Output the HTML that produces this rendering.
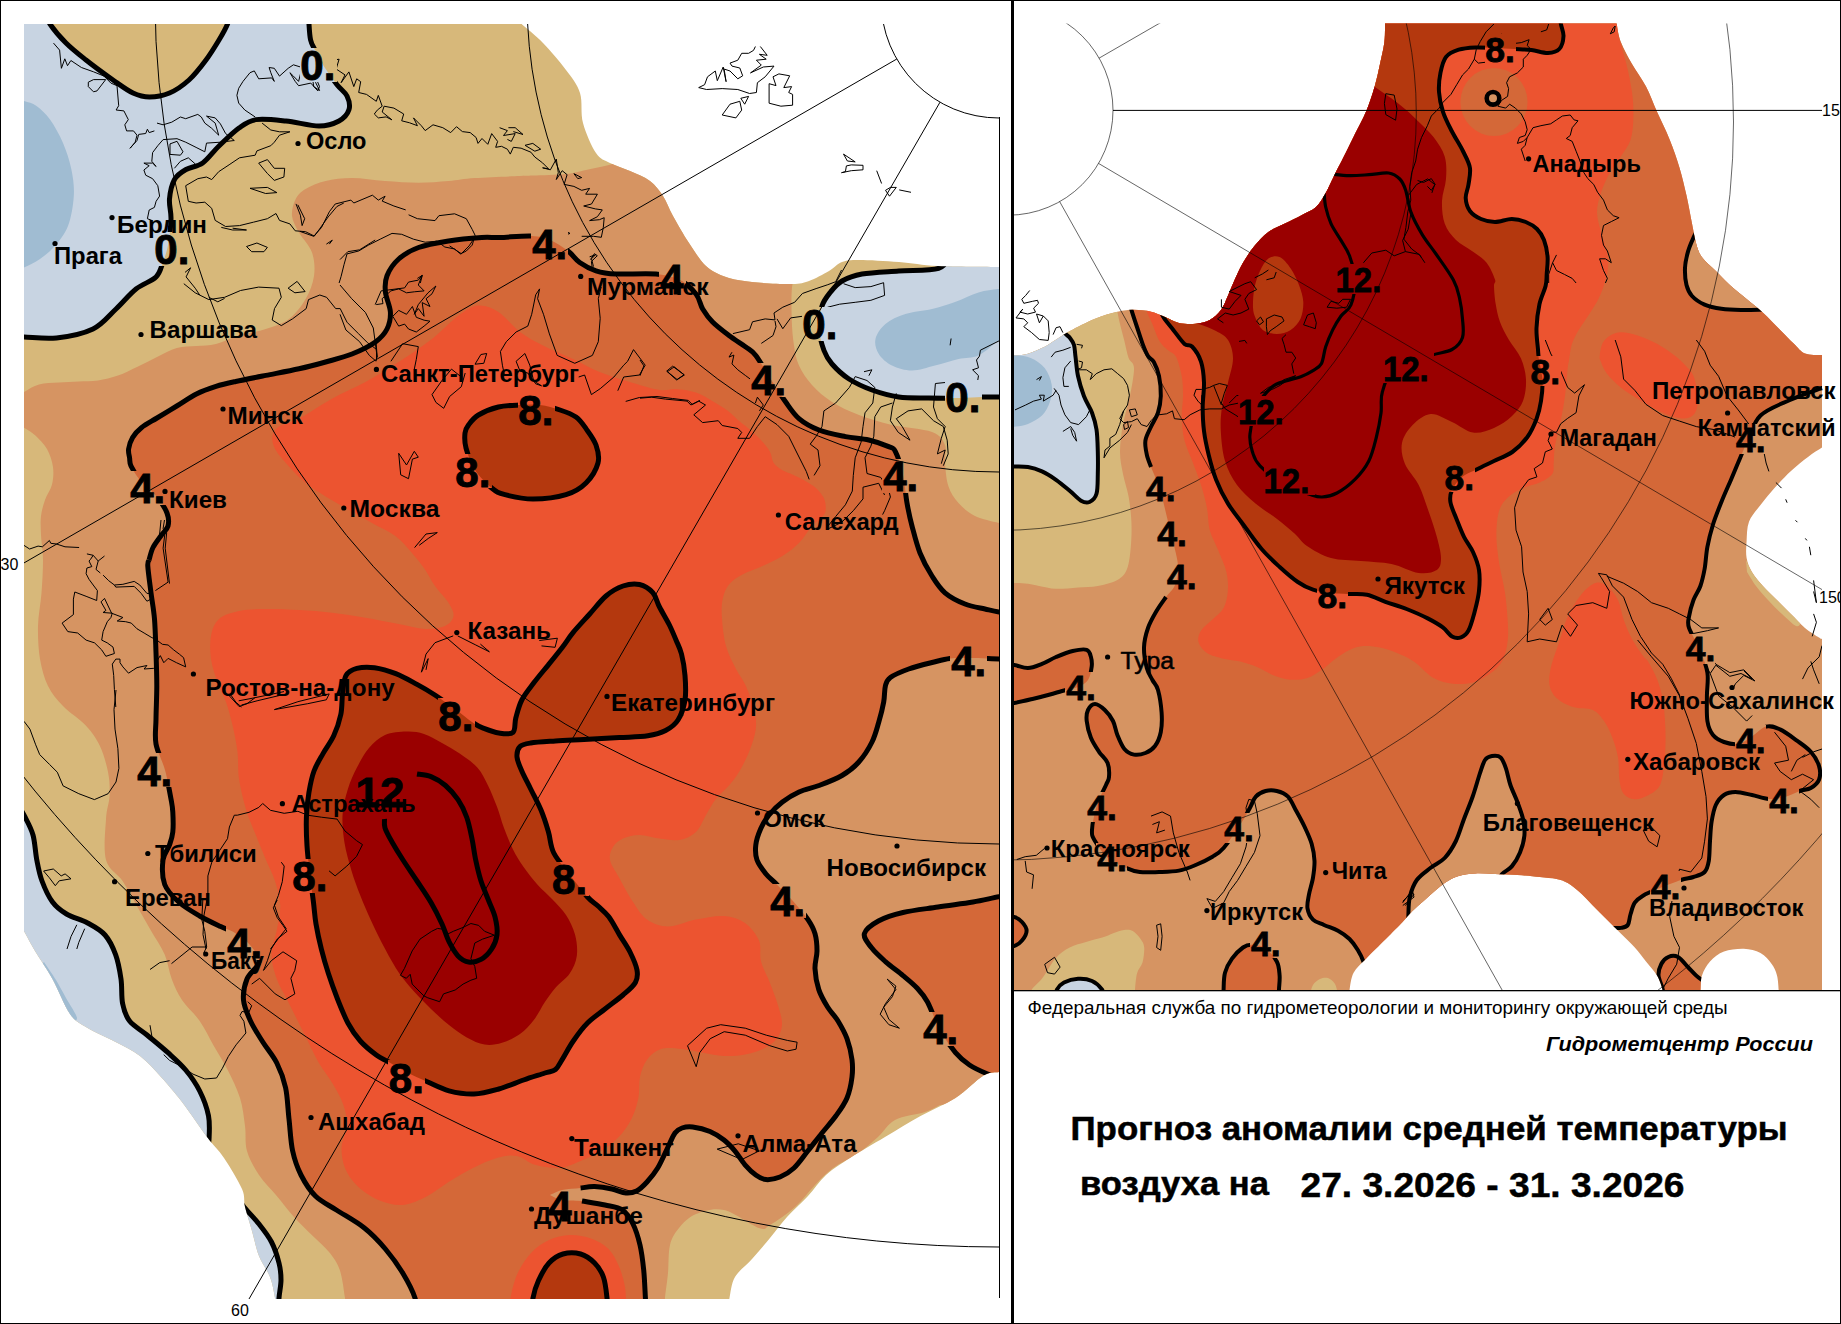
<!DOCTYPE html>
<html lang="ru"><head><meta charset="utf-8"><title>Прогноз аномалии средней температуры воздуха</title>
<style>html,body{margin:0;padding:0;background:#fff}svg{display:block}text{font-family:"Liberation Sans","Noto Sans CJK SC",sans-serif}.c{font-weight:bold;font-size:23px}.l{font-weight:bold;font-size:42px;stroke:#000;stroke-width:0.9px}.r{font-weight:bold;font-size:35.5px;stroke:#000;stroke-width:0.8px}.k{fill:none;stroke:#000;stroke-linejoin:round;stroke-linecap:butt}.t{fill:none;stroke:#000;stroke-width:1}</style></head><body>
<svg width="1841" height="1324" viewBox="0 0 1841 1324">
<defs>
<clipPath id="rL"><rect x="24" y="24" width="975" height="1275"/></clipPath>
<clipPath id="dL"><path d="M24 24L521.6 24L521.6 24C525.2 27.2 535.6 35.3 543 43C550.4 50.7 559.8 61.7 566 70C572.2 78.3 577.2 84.2 580 93C582.8 101.8 580.3 113 583 123C585.7 133 591.5 146.3 596 153C600.5 159.7 604.3 160 610 163C615.7 166 623.3 168 630 171C636.7 174 644.5 176.8 650 181C655.5 185.2 659.2 190.2 663 196C666.8 201.8 668.7 208.2 673 216C677.3 223.8 683.5 234.7 689 243C694.5 251.3 699.8 260.3 706 266C712.2 271.7 718.3 274.3 726 277C733.7 279.7 741 280.8 752 282C763 283.2 782.5 284.2 792 284C801.5 283.8 802.8 283.2 809 281C815.2 278.8 823.5 274.2 829 271C834.5 267.8 837 263.8 842 262C847 260.2 849.5 260 859 260C868.5 260 885.8 261 899 262C912.2 263 921.3 265.2 938 266C954.7 266.8 987.8 266.8 999 267C1010.2 267.2 1004 267 1005 267L1005 1071L1005 1071C1004 1071.2 1002.6 1071.2 999 1072C995.4 1072.8 990.9 1071.2 983.6 1075.5C976.4 1079.8 966 1091.2 955.5 1098C945 1104.8 932.2 1109.5 920.5 1116C908.8 1122.5 896.8 1130 885 1137C873.2 1144 859.8 1151.7 850 1158C840.2 1164.3 833 1168.7 826 1175C819 1181.3 814.5 1189 808 1196C801.5 1203 793.3 1210 787 1217C780.7 1224 775.8 1231 770 1238C764.2 1245 757.8 1252.5 752 1259C746.2 1265.5 738.8 1270.5 735 1277C731.2 1283.5 730.5 1293.3 729.5 1298C728.5 1302.7 729.1 1303.8 729 1305L275 1305L275 1305C275 1303.8 275.8 1302.7 275 1298C274.2 1293.3 272.7 1284 270 1277C267.3 1270 262 1263.7 259 1256C256 1248.3 254.3 1239.2 252 1231C249.7 1222.8 246.7 1214 245 1207C243.3 1200 245.5 1197.2 242 1189C238.5 1180.8 229.8 1166.7 224 1158C218.2 1149.3 214 1146.3 207 1137C200 1127.7 189.7 1112 182 1102C174.3 1092 168 1084.7 161 1077C154 1069.3 147.6 1061.8 140 1056C132.4 1050.2 124.3 1046.7 115.6 1042C106.9 1037.3 95.2 1032.7 87.6 1028C80 1023.3 75.8 1022.2 70 1014C64.2 1005.8 58.3 989.5 52.5 979C46.7 968.5 39.7 958.8 35 951C30.3 943.2 27 936.3 24.5 932C22 927.7 20.8 926.2 20 925Z"/></clipPath>
<clipPath id="rR"><rect x="1014" y="23.5" width="808" height="966.5"/></clipPath>
<clipPath id="dR"><path d="M1385 15C1385 16.3 1385.1 18.5 1385 23C1384.9 27.5 1385.2 35.2 1384.4 42C1383.6 48.8 1381.6 56.5 1380 64C1378.4 71.5 1376.9 78.7 1374.6 86.7C1372.3 94.7 1369.3 103.9 1366 111.8C1362.7 119.7 1358.7 126.5 1355 134C1351.3 141.5 1347.4 149.6 1343.9 156.6C1340.4 163.6 1337 169.9 1334 176C1331 182.1 1328.7 187.8 1325.7 193C1322.7 198.2 1320 203.3 1316 207C1312 210.7 1307.2 212.2 1302 215C1296.8 217.8 1290.6 220.8 1285 223.6C1279.4 226.4 1273.5 228.3 1268.4 232C1263.3 235.7 1258.6 240.9 1254.4 246C1250.2 251.1 1246.3 257.2 1243 262.8C1239.7 268.4 1237.3 274.1 1234.8 279.6C1232.3 285.1 1230.1 290.9 1227.8 296C1225.5 301.1 1223.9 306 1220.9 310C1217.9 314 1213.9 317.7 1209.7 320C1205.5 322.3 1200.8 323.2 1195.7 323.7C1190.6 324.2 1184.1 324 1179 322.9C1173.9 321.8 1169.7 318.9 1165 317C1160.3 315.1 1156.2 312.9 1151 311.7C1145.8 310.5 1139.6 309.8 1134 309.8C1128.4 309.8 1123.9 310.2 1117.4 311.7C1110.9 313.2 1102.9 315.5 1095 318.7C1087.1 321.9 1076.4 327.5 1069.9 331C1063.4 334.5 1060.1 337.1 1055.9 339.7C1051.7 342.3 1049.4 344.4 1044.7 346.7C1040 349 1033.1 352.2 1028 353.7C1022.9 355.2 1017.8 355.2 1014 355.6C1010.2 356 1006.5 355.9 1005 356L1005 995L1349.5 995C1349.5 994.2 1348.8 993.7 1349.5 990C1350.2 986.3 1350.8 977.9 1353.6 972.7C1356.3 967.5 1360.6 964.3 1366 958.7C1371.4 953.1 1379.7 945.1 1385.8 939C1391.9 932.9 1398.4 926.4 1402.6 922C1406.8 917.6 1406.8 916.7 1411 912.5C1415.2 908.3 1422.4 901.9 1428 897C1433.6 892.1 1439.6 886.5 1444.7 883C1449.8 879.5 1453.6 877.6 1458.7 876C1463.8 874.4 1469.5 873.7 1475.5 873.4C1481.5 873.1 1488 873.7 1495 874C1502 874.3 1510 874.5 1517.4 875C1524.9 875.5 1533.2 876.3 1539.7 877C1546.2 877.7 1551.8 878 1556.5 879C1561.2 880 1564 880.9 1567.7 883C1571.4 885.1 1574.7 887.8 1578.9 891.5C1583.1 895.2 1588.2 900.8 1592.8 905.5C1597.4 910.2 1602.1 914.8 1606.8 919.5C1611.5 924.2 1616.1 928.9 1620.8 933.5C1625.5 938.1 1630.6 942.8 1634.8 947.4C1639 952 1642.3 956.7 1646 961.4C1649.7 966.1 1654.2 970.6 1657 975.4C1659.8 980.2 1661.7 986.7 1662.7 990C1663.7 993.3 1663 994.2 1663 995L1700.5 995C1700.5 994.2 1700.2 993.3 1700.5 990C1700.8 986.7 1700.4 980.2 1702 975.4C1703.6 970.6 1706.3 965.4 1710 961.4C1713.7 957.4 1718.4 953.7 1724 951.6C1729.6 949.5 1737.7 948.6 1743.8 948.8C1749.9 949 1755.8 950.5 1760.5 953C1765.2 955.5 1769 960.3 1771.7 964C1774.5 967.7 1775.8 971.1 1777 975.4C1778.2 979.7 1778.4 986.7 1778.7 990C1779 993.3 1779 994.2 1779 995L1830 995L1830 640C1828.7 639.8 1823.8 639.4 1822 639C1820.2 638.6 1821.8 639.4 1819 637.6C1816.2 635.8 1809.7 631.9 1805 628C1800.3 624.1 1795.7 618.7 1791 614C1786.3 609.3 1781.7 604.7 1777 600C1772.3 595.3 1767.2 590.7 1763 586C1758.8 581.3 1754.7 576.7 1752 572C1749.3 567.3 1747.5 563.2 1746.6 558C1745.7 552.8 1746.2 547 1746.6 541C1747 535 1746.7 527.7 1749 521.7C1751.3 515.7 1756.2 510.6 1760.5 505C1764.8 499.4 1769.4 493.7 1774.5 488C1779.6 482.3 1785.4 476.2 1791 471C1796.6 465.8 1802.8 460.9 1808 457C1813.2 453.1 1818.3 449.9 1822 447.6C1825.7 445.3 1828.7 443.8 1830 443L1830 355C1828.7 355 1826.2 355.2 1822 355C1817.8 354.8 1809.7 355.4 1805 353.5C1800.3 351.6 1798.2 347.8 1794 343.8C1789.8 339.9 1785.1 334.9 1780 329.8C1774.9 324.7 1768.9 318.1 1763.3 313C1757.7 307.9 1752.2 303.7 1746.6 299C1741 294.3 1734.9 289.7 1729.8 285C1724.7 280.3 1720.5 275.7 1715.8 271C1711.1 266.3 1705.1 261.7 1701.8 257C1698.5 252.3 1697.6 248.6 1696 243C1694.4 237.4 1693.6 231.5 1692 223.6C1690.4 215.7 1688.6 204.9 1686.5 195.6C1684.4 186.3 1682.3 177 1679.5 167.7C1676.7 158.4 1673.5 149 1669.7 139.7C1666 130.4 1661 120.6 1657 111.8C1653 103 1650.2 94.6 1646 86.6C1641.8 78.6 1636.2 71.4 1632 64C1627.8 56.6 1623.4 48.8 1620.8 42C1618.2 35.2 1617.4 27.5 1616.6 23C1615.8 18.5 1616.1 16.3 1616 15Z"/></clipPath>
<clipPath id="eL"><rect x="300" y="48" width="37" height="34"/><rect x="154" y="232" width="37" height="34"/><rect x="802" y="307" width="37" height="34"/><rect x="945" y="380" width="37" height="34"/><rect x="531" y="227" width="37" height="34"/><rect x="659" y="262" width="27" height="34"/><rect x="750" y="363" width="37" height="34"/><rect x="882" y="459" width="37" height="34"/><rect x="950" y="644" width="37" height="34"/><rect x="769" y="884" width="37" height="34"/><rect x="922" y="1012" width="37" height="34"/><rect x="547" y="1189" width="27" height="34"/><rect x="226" y="926" width="37" height="34"/><rect x="136" y="753" width="37" height="34"/><rect x="129" y="471" width="37" height="34"/><rect x="518" y="393" width="37" height="34"/><rect x="455" y="454" width="37" height="34"/><rect x="438" y="698" width="37" height="34"/><rect x="292" y="859" width="37" height="34"/><rect x="388" y="1060" width="37" height="34"/><rect x="552" y="862" width="37" height="34"/><rect x="356" y="775" width="51" height="34"/></clipPath>
<clipPath id="eR"><rect x="1485" y="34" width="31" height="30"/><rect x="1530" y="356" width="31" height="30"/><rect x="1444" y="462" width="31" height="30"/><rect x="1317" y="580" width="31" height="30"/><rect x="1336" y="264" width="51" height="30"/><rect x="1238" y="396" width="51" height="30"/><rect x="1383" y="353" width="51" height="30"/><rect x="1264" y="465" width="51" height="30"/><rect x="1145" y="473" width="31" height="30"/><rect x="1156" y="518" width="31" height="30"/><rect x="1166" y="561" width="31" height="30"/><rect x="1065" y="672" width="31" height="30"/><rect x="1086" y="792" width="31" height="30"/><rect x="1096" y="843" width="31" height="30"/><rect x="1223" y="813" width="31" height="30"/><rect x="1250" y="928" width="31" height="30"/><rect x="1735" y="424" width="31" height="30"/><rect x="1684" y="634" width="31" height="30"/><rect x="1735" y="725" width="31" height="30"/><rect x="1768" y="785" width="31" height="30"/><rect x="1650" y="871" width="31" height="30"/></clipPath>
</defs>
<rect width="1841" height="1324" fill="#fff"/>
<g clip-path="url(#rL)"><g clip-path="url(#dL)">
<g id="fL">
<rect x="0" y="0" width="1012" height="1324" fill="#d7b87a"/>
<path fill="#c8d4e2" d="M10 337C12.3 337 16.2 336.8 24 337C31.8 337.2 45 339.3 56.5 338C68 336.7 83.1 333.8 93 329C102.9 324.2 108.8 315.7 116 309C123.2 302.3 129.3 294.3 136 289C142.7 283.7 151.5 281.5 156 277C160.5 272.5 161 267.3 163 262C165 256.7 166.7 252.2 168 245C169.3 237.8 170.8 226.7 171 219C171.2 211.3 168.9 205.6 169.5 199C170.1 192.4 171.8 184.4 174.5 179.5C177.2 174.6 181.3 172.2 186 169.5C190.7 166.8 197.2 166.9 202.7 163C208.2 159.1 212.9 151.8 219 146C225.1 140.2 232.8 132.4 239 128C245.2 123.6 248.2 120.8 256 119.6C263.8 118.4 275.5 119.9 286 121C296.5 122.1 310.2 126 319 126C327.8 126 334 123.7 339 121C344 118.3 347.7 113.8 349 109.6C350.3 105.4 349 100.2 347 96C345 91.8 340.7 89.4 337 84.7C333.3 80 328.7 73.8 325 68C321.3 62.2 317.4 54.7 315 50C312.6 45.3 311.6 44.3 310.6 40C309.6 35.7 309.3 29 309 24C308.7 19 309 12.3 309 10L0 0Z"/>
<path fill="#c8d4e2" d="M950 255C948.1 257.2 947.1 265.7 938.6 268.4C930.1 271.1 911.5 270.1 898.7 271C885.9 271.9 871.5 272.3 862 274C852.5 275.7 847.2 278 842 281C836.8 284 833.9 287.8 830.6 292C827.3 296.2 823.9 300 822 306C820.1 312 818.7 320.6 819 328C819.3 335.4 821.8 344.5 824 350.5C826.2 356.5 827.8 359.2 832 364C836.2 368.8 842.3 374.7 849 379C855.7 383.3 863.7 387 872 390C880.3 393 889.3 395.7 898.7 397C908.1 398.3 918.4 397.8 928.6 398C938.8 398.2 951.1 398.2 960 398C968.9 397.8 975.2 397.2 981.7 397C988.2 396.8 993.5 397 999 397C1004.5 397 1012.3 397 1015 397L1015 250Z"/>
<path fill="#c8d4e2" d="M15 800C16.7 802.8 22 811.2 25 817C28 822.8 31 827.8 33 835C35 842.2 35.3 852.3 36.8 860C38.3 867.7 39.4 874 42 881C44.6 888 48.4 896.5 52.5 902C56.6 907.5 60.6 910.5 66.5 914C72.3 917.5 81.2 919.5 87.6 923C94 926.5 100.3 929.7 105 935C109.7 940.3 112.9 947.3 115.6 954.6C118.3 961.9 119.8 970.8 121 979C122.2 987.2 121.2 996.6 122.6 1003.6C124 1010.6 125.5 1015.8 129.6 1021C133.7 1026.2 140.6 1029.7 147 1035C153.4 1040.3 161.6 1046.9 168 1052.7C174.4 1058.5 180.4 1063.6 185.7 1070C191 1076.4 195.9 1083.4 199.7 1091C203.5 1098.6 206.9 1107.6 208.5 1115.8C210.1 1124 209.2 1134.3 209 1140C208.8 1145.7 207.3 1148.3 207 1150L150 1200L0 1200L0 800Z"/>
<path fill="#c8d4e2" d="M240 1200C240.7 1201.2 240.8 1203 244 1207C247.2 1211 254.4 1218.2 259 1224C263.6 1229.8 268.2 1235.5 271.5 1242C274.8 1248.5 277.4 1256.7 279 1263C280.6 1269.3 281 1274.2 281 1280C281 1285.8 279.3 1293 279 1298C278.7 1303 279 1308 279 1310L200 1310L200 1200Z"/>
<path fill="#d7b87a" d="M44 10C45 12.3 46.3 18.5 50 24C53.7 29.5 60 37 66 43C72 49 78.2 53.8 86 60C93.8 66.2 105.2 74.5 113 80C120.8 85.5 126.9 90.2 133 93C139.1 95.8 143.4 97 149.5 97C155.6 97 162.9 95.8 169.5 93C176.1 90.2 182.9 85.5 189 80C195.1 74.5 201 66.7 206 60C211 53.3 215.4 46 219 40C222.6 34 225.5 29 227.5 24C229.5 19 230.4 12.3 231 10Z"/>
<path fill="#a0bcd2" d="M10 98C12.3 98.5 19.6 99.7 24 101C28.4 102.3 32.2 102.9 36.5 106C40.8 109.1 45.6 113.4 50 119.6C54.4 125.8 59.4 134.7 63 143C66.6 151.3 69.6 160.6 71.4 169.4C73.2 178.2 74.4 186.6 73.8 196C73.2 205.4 71.2 217.7 68 226C64.8 234.3 59.5 240.5 54.8 246C50.1 251.5 45.1 255.4 40 259C34.9 262.6 29 265.2 24 267.4C19 269.6 12.3 271.2 10 272L0 272L0 98Z"/>
<path fill="#a0bcd2" d="M1015 287C1012.2 287.3 1004.6 288.1 998.5 289C992.4 289.9 985.8 290.2 978.5 292.4C971.2 294.6 962.8 299.2 955 302C947.2 304.8 940.3 307 932 309C923.7 311 913.2 311.5 905.4 314C897.6 316.5 890.4 319.8 885.4 324C880.4 328.2 876.6 334 875.5 339C874.4 344 876 349.6 878.8 354C881.5 358.4 886.5 362.8 892 365.5C897.5 368.2 904.8 370.5 912 370.5C919.2 370.5 927.2 367.4 935 365.5C942.8 363.6 951.2 360.7 958.5 359C965.8 357.3 971.8 358.6 978.5 355.5C985.2 352.4 992.4 344.9 998.5 340.6C1004.6 336.4 1012.2 331.8 1015 330Z"/>
<path fill="#a0bcd2" d="M44 962C46 965 52.3 974 56 980C59.7 986 62.5 991.7 66 998C69.5 1004.3 76.7 1014.7 77 1018C77.3 1021.3 72.2 1023 68 1018C63.8 1013 56.7 996.7 52 988C47.3 979.3 42 969.7 40 966Z"/>
<path fill="#d69462" d="M10 400C12.3 398.7 19.2 394.6 24 392C28.8 389.4 33.2 386.1 39 384.5C44.8 382.9 52.4 383 59 382.5C65.6 382 72.1 381.8 78.6 381.5C85.1 381.2 91.4 381.5 98 380.5C104.6 379.5 111.4 377.9 118 375.6C124.6 373.3 131 369.9 137.5 366.8C144 363.7 150.4 360.1 157 357C163.6 353.9 170.2 349.8 176.8 348C183.4 346.2 189.9 346.7 196.4 346C202.9 345.3 208.9 345.8 216 344C223.1 342.2 230.7 338 239 335.5C247.3 333 257.5 331.8 265.8 329C274.1 326.2 282.4 324 289 319C295.6 314 301.4 306.2 305.6 299C309.8 291.8 312.9 283.8 314 276C315.1 268.2 314.5 259.8 312 252.5C309.5 245.2 302.3 238.6 299 232.5C295.7 226.4 292.6 221.6 292 216C291.4 210.4 293.4 203.5 295.7 199C298 194.5 300.6 192 305.6 189C310.6 186 317.9 182.8 325.6 181C333.3 179.2 342.1 178 352 178C361.9 178 373.9 180.2 385 181C396.1 181.8 408 182.7 418.6 182.7C429.2 182.7 439.1 181.8 448.5 181C457.9 180.2 463.1 178.8 475 178C486.9 177.2 510.3 176.4 520 176C529.7 175.6 525.3 175.9 533 175.6C540.7 175.3 557.2 174.9 566 174C574.8 173.1 578.8 171.5 586 170C593.2 168.5 602.5 166.7 609 165C615.5 163.3 622.3 160.8 625 160L640 150L800 272C798.8 274 793.9 276.2 792.5 284C791.1 291.8 791.5 308.8 791.7 319C792 329.2 792.8 337.8 794 345.5C795.2 353.2 796 358.9 799 365.5C802 372.1 806.5 378.9 812 385C817.5 391.1 824.2 397 832 402C839.8 407 849 411.2 859 415C869 418.8 879.8 422.2 892 425C904.2 427.8 923.2 428.7 932 432C940.8 435.3 942.8 439.8 945 445C947.2 450.2 944.4 456.1 945 463C945.6 469.9 946.2 479.8 948.5 486.5C950.8 493.2 954.1 498.1 958.5 503C962.9 507.9 968.2 512.7 975 516C981.8 519.3 992.3 521.3 999 523C1005.7 524.7 1012.3 525.5 1015 526L1015 1100L940 1105C937.5 1106.2 932.5 1109.5 925 1112C917.5 1114.5 902.8 1115.8 895 1120C887.2 1124.2 884.3 1131.3 878 1137C871.7 1142.7 864.5 1148.8 857 1154C849.5 1159.2 840 1162.8 833 1168C826 1173.2 821.3 1178.5 815 1185C808.7 1191.5 802.5 1200.3 795 1207C787.5 1213.7 776 1221.5 770 1225C764 1228.5 766.7 1230.5 759 1228C751.3 1225.5 734.5 1212.3 724 1210C713.5 1207.7 703.5 1211 696 1214C688.5 1217 683.3 1222.8 679 1228C674.7 1233.2 671.8 1237.5 670 1245C668.2 1252.5 668.8 1264.2 668 1273C667.2 1281.8 665.5 1291.8 665 1298C664.5 1304.2 665 1308 665 1310L345 1310L345 1298C344.1 1293.3 342.5 1277.7 339.8 1270C337.1 1262.3 333.7 1257.8 329 1252C324.3 1246.2 317.6 1240.8 311.8 1235C306 1229.2 299.8 1223.5 294 1217C288.2 1210.5 282.6 1203 276.8 1196C271 1189 264 1182.5 259 1175C254 1167.5 249.3 1159.2 247 1151C244.7 1142.8 246.2 1134.8 245 1126C243.8 1117.2 242.9 1107.3 240 1098C237.1 1088.7 232.1 1078.7 227.7 1070C223.3 1061.3 218.4 1053.9 213.7 1045.7C209 1037.5 205 1028.6 199.7 1021C194.4 1013.4 186.7 1007 182 1000C177.3 993 174.6 986.6 171.7 979C168.8 971.4 168.2 962.8 164.7 954.6C161.2 946.4 155.3 938.2 150.6 930C145.9 921.8 141.3 913.7 136.6 905.5C131.9 897.3 127.7 888.6 122.6 881C117.5 873.4 108.8 870.3 106 860C103.2 849.7 105.4 829.8 106 819C106.6 808.2 109.3 803.3 109.6 795.5C109.9 787.7 109.7 780.3 108 772C106.3 763.7 103.4 753.3 99.7 745.6C96 737.9 92.1 732.3 86 725.7C79.9 719.1 69.3 712.6 63 706C56.7 699.4 51.8 693.8 48 686C44.2 678.2 41.7 669 40 659C38.3 649 37.8 637 38 626C38.2 615 40.7 604.1 41.5 593C42.3 581.9 43.1 569.2 43 559.5C42.9 549.8 41.3 542.2 41 535C40.7 527.8 40.3 521.8 41 516C41.7 510.2 43.2 505.2 45 500C46.8 494.8 50.7 490.1 52 484.6C53.3 479.1 53.8 472.9 53 467C52.2 461.1 49.9 454.2 47 449C44.1 443.8 39.2 439.1 35.4 435.5C31.6 431.9 28.2 430.3 24 427.7C19.8 425.1 12.3 421.3 10 420Z"/>
<path fill="#d46838" d="M149 560C149.7 557.9 151 551.5 153 547.5C155 543.5 158.5 539.3 161 535.7C163.5 532.1 167 529.8 168 526C169 522.2 168.8 517.8 167 513C165.2 508.2 161.5 502.5 157 497C152.5 491.5 144.3 485.2 140 480C135.7 474.8 132.7 469.7 131 466C129.3 462.3 130 460.8 129.6 458C129.2 455.2 128.1 452.4 128.6 449C129.1 445.6 130.5 441.1 132.6 437.5C134.7 433.9 137.3 430.9 141.4 427.7C145.5 424.4 151.1 421.6 157 418C162.9 414.4 170.2 410 176.8 406C183.4 402 189.9 397.3 196.4 394C202.9 390.7 209.4 388.5 216 386.4C222.6 384.3 227.4 383.3 235.7 381.5C244 379.7 255.2 377.5 265.8 375.4C276.4 373.3 289 371 299 368.8C309 366.6 316.8 364.5 325.6 362C334.4 359.5 343.7 357.3 352 354C360.3 350.7 369.6 346.2 375.4 342C381.2 337.8 384.5 334 387 329C389.5 324 390.7 318.2 390.4 312C390.1 305.8 386 298.1 385.4 292C384.8 285.9 384.8 281.2 387 275.7C389.2 270.2 393.4 263.7 398.7 259C404 254.3 410.3 250.5 418.6 247.5C426.9 244.5 438 242.7 448.5 241C459 239.3 473.1 238.1 481.7 237.5C490.3 236.9 491.7 237.8 500 237.5C508.3 237.2 523.3 235.6 531.6 236C539.9 236.4 543.9 237.5 550 240C556.1 242.5 563 247.2 568 251C573 254.8 575 259.2 579.7 262.5C584.4 265.8 590 268.9 596 270.8C602 272.7 606 273.5 616 274C626 274.5 645.3 273 656 274C666.7 275 673.3 276.7 680 280C686.7 283.3 692.2 289.2 696 294C699.8 298.8 699.9 304.3 702.7 309C705.5 313.7 708.2 317.6 712.6 322C717 326.4 723.5 331.3 729 335.5C734.5 339.7 741.3 343.7 745.8 347C750.3 350.3 751.8 350.3 755.8 355.5C759.8 360.7 765 370.2 770 378C775 385.8 780.9 395.2 785.7 402C790.5 408.8 793.5 413.9 799 418.6C804.5 423.3 811.2 427 819 430C826.8 433 837.2 434.9 845.5 436.6C853.8 438.3 861.6 438.3 868.8 440C876 441.7 884.3 444.7 888.7 446.6C893.1 448.5 893 446.9 895.4 451.6C897.8 456.3 901.1 466.4 903 475C904.9 483.6 905.5 494.5 907 503C908.5 511.5 909.8 517.7 912 526C914.2 534.3 916.7 544.7 920 553C923.3 561.3 927.8 569.4 932 576C936.2 582.6 939.5 588.1 945 592.8C950.5 597.5 958.3 601.3 965 604C971.7 606.7 979.3 607.7 985 609C990.7 610.3 994 611.2 999 612C1004 612.8 1012.3 613.7 1015 614L1015 659C1012.3 659 1006.5 659.2 999 659C991.5 658.8 978.2 658.1 970 658C961.8 657.9 956.3 657.8 950 658.5C943.7 659.2 938.9 660.8 932 662.5C925.1 664.2 915.6 666.5 908.7 669C901.8 671.5 894.3 674.7 890.4 677.5C886.5 680.3 886.5 681.7 885.4 685.8C884.3 689.9 884.8 696 883.7 702C882.6 708 880.8 715.3 878.8 722C876.8 728.7 875.3 735.3 872 742C868.7 748.7 863.8 756.4 858.8 762C853.8 767.6 848.6 771.6 842 775.5C835.4 779.4 826.2 782.8 819 785.5C811.8 788.2 805.1 789.2 799 792C792.9 794.8 787.4 798.2 782.4 802C777.4 805.8 772.6 810.6 769 815C765.4 819.4 763 823.6 760.8 828.6C758.6 833.6 756.4 839.8 755.8 845C755.2 850.2 755.3 855.2 757 860C758.7 864.8 762.7 869.9 766 874C769.3 878.1 772.5 880.2 776.8 884.5C781.1 888.8 786.8 894.1 792 900C797.2 905.9 804.2 914 808 919.6C811.8 925.2 813.5 928.4 815 933.6C816.5 938.8 817 945.2 817 951C817 956.8 814.7 962.2 815 968.6C815.3 975 816.7 983.2 818.8 989.6C820.9 996 824.4 1001.8 827.6 1007C830.8 1012.2 834.8 1015.7 838 1021C841.2 1026.3 844.7 1032.2 847 1038.7C849.3 1045.2 851.2 1053.3 852 1059.7C852.8 1066.1 852.8 1070.6 852 1077C851.2 1083.4 849.7 1091.5 847 1098C844.3 1104.5 840.2 1110 836 1115.8C831.8 1121.6 826.7 1127.2 822 1133C817.3 1138.8 812.7 1145 808 1150.8C803.3 1156.6 798.7 1163.6 794 1168C789.3 1172.4 784.7 1175.1 780 1177C775.3 1178.9 770 1179.9 766 1179.6C762 1179.3 759.3 1177.5 755.8 1175C752.3 1172.5 748.5 1168.8 745 1164.8C741.5 1160.8 738.3 1154.9 734.8 1150.8C731.3 1146.7 728.1 1143.2 724 1140C719.9 1136.8 715.2 1133.7 710 1131.5C704.8 1129.3 697.4 1127.6 692.7 1127C688 1126.4 685 1127 682 1128C679 1129 677.3 1129.8 675 1133C672.7 1136.2 670.9 1141.2 668 1147C665.1 1152.8 661.2 1162.2 657.7 1168C654.2 1173.8 650.5 1178.2 647 1182C643.5 1185.8 640.1 1189.2 636.6 1191C633.1 1192.8 630.1 1193.3 626 1193C621.9 1192.7 617.2 1190.1 612 1189C606.8 1187.9 599.8 1186.8 594.6 1186.6C589.4 1186.4 586 1187.4 580.6 1188C575.2 1188.6 567.1 1188.8 562 1190C556.9 1191.2 552 1194.2 550 1195L550 1195C552 1195.8 556.7 1199 562 1200C567.3 1201 574.8 1200.2 582 1201C589.2 1201.8 598.2 1203.5 605 1205C611.8 1206.5 617.9 1206.8 622.6 1210C627.3 1213.2 630.1 1218.2 633 1224C635.9 1229.8 638.2 1237.3 640 1245C641.8 1252.7 642.8 1261.2 643.7 1270C644.6 1278.8 645 1291.3 645.4 1298C645.8 1304.7 645.9 1308 646 1310L415 1310C415 1308 417 1304.1 415 1298C413 1291.9 407.9 1281.7 403 1273.5C398.1 1265.3 391.8 1256.6 385.4 1249C379 1241.4 372.6 1234.5 364.4 1228C356.2 1221.5 344.6 1215.3 336.4 1210C328.2 1204.7 321.3 1201.8 315.4 1196C309.5 1190.2 304.8 1182.5 301 1175C297.2 1167.5 294.6 1160.1 292.6 1150.8C290.6 1141.5 290.2 1129.5 289 1119C287.8 1108.5 287.6 1097.1 285.6 1087.8C283.6 1078.5 280.6 1070.6 276.8 1063C273 1055.4 267.2 1049 262.8 1042C258.4 1035 253.7 1028 250.5 1021C247.3 1014 244.1 1007 243.5 1000C242.9 993 244.4 985.4 247 979C249.6 972.6 258.5 967.3 259 961.6C259.5 955.9 254 949.8 250 945C246 940.2 239.9 936.1 235 933C230.1 929.9 226.6 929.4 220.7 926.6C214.8 923.8 206.7 920.1 199.7 916C192.7 911.9 184.5 907.2 178.7 902C172.9 896.8 167.3 891.5 164.7 884.5C162.1 877.5 162.2 866.6 163 860C163.8 853.4 167.9 849.7 169.5 845C171.1 840.3 172.2 837.5 172.8 832C173.4 826.5 173.1 817.5 172.8 812C172.5 806.5 172.3 806 171 799C169.7 792 167.5 779.2 165 770C162.5 760.8 157.5 752.5 156 744C154.5 735.5 155.9 728.7 156 719C156.1 709.3 156.8 696.9 156.8 685.8C156.8 674.7 156.4 663.7 156 652.6C155.6 641.5 155.3 629 154.5 619C153.7 609 152.1 601.6 151 592.8C149.9 584 148.1 571.5 147.8 566C147.5 560.5 148.8 561 149 560Z"/>
<path fill="#d46838" d="M1015 895C1012.3 895.3 1006 895.6 999 896.8C992 898 983.2 900.3 973 902C962.8 903.7 949.7 905.2 938 907C926.3 908.8 912.9 910.2 903 912.5C893.1 914.8 884.8 917.5 878.4 921C872 924.5 865.6 929.2 864.4 933.6C863.2 938 867.9 942.9 871.4 947.6C874.9 952.3 880.1 956.9 885.4 961.6C890.7 966.3 897.7 971.2 903 975.6C908.3 980 912.9 983.6 917 988C921.1 992.4 923.7 995 927.5 1002C931.3 1009 935.3 1021.5 940 1030C944.7 1038.5 950.6 1046.9 955.5 1052.7C960.4 1058.5 964.2 1061.5 969.5 1065C974.8 1068.5 980.2 1070.9 987 1073.7C993.8 1076.5 1006.2 1080.6 1010 1082Z"/>
<path fill="#ec5430" d="M272.4 436.6C272.9 432.7 274.6 429.6 279 426.6C283.4 423.6 290.2 423.2 299 418.6C307.8 414 320.9 404.8 332 398.7C343.1 392.6 354.4 388.1 365.5 382C376.6 375.9 387.6 369.2 398.7 362C409.8 354.8 422 346.7 432 339C442 331.3 450.8 321.2 458.5 315.6C466.2 310 471.8 306.2 478.4 305.6C485 305 491.5 307.6 498.4 312C505.3 316.4 512.6 326.4 520 332C527.4 337.6 534.2 341 543 345.5C551.8 350 563.5 354.6 573 359C582.5 363.4 589.7 368 599.7 372C609.7 376 623 380 633 383C643 386 652.9 389 660 390C667.1 391 669.7 388.6 675.7 389C681.7 389.4 689.5 390.4 696 392.6C702.5 394.8 709.1 399.3 714.4 402.3C719.7 405.3 723.5 407.6 727.7 410.8C731.9 414 735.8 418.2 739.8 421.6C743.8 425 748 427.9 751.8 431.3C755.6 434.7 759.7 438.6 762.7 442C765.7 445.4 768.2 448.4 770 451.8C771.8 455.2 771.6 459.7 773.6 462.7C775.6 465.7 778.8 468 782 470C785.2 472 789.2 473 793 474.8C796.8 476.6 801.2 478.6 805 480.8C808.8 483 812.9 485.4 815.9 488C818.9 490.6 821.4 493.8 823 496.6C824.6 499.4 825.4 502 825.6 505C825.8 508 826.3 511.2 824 514.7C821.7 518.2 816.2 521.3 812 526C807.8 530.7 803.9 538 799 543C794.1 548 788.5 552.2 782.4 556C776.3 559.8 769.1 562.9 762.5 566C755.9 569.1 748.1 571.4 742.5 574.5C736.9 577.6 732.3 580.4 729 584.5C725.7 588.6 723.8 593.6 722.6 599.4C721.4 605.1 721.4 611.2 722 619C722.6 626.8 723.7 637.7 726 646C728.3 654.3 732.7 662.4 736 669C739.3 675.6 742.8 679.1 745.8 685.8C748.8 692.5 752.3 701.8 754 709C755.7 716.2 756.6 721.8 755.8 729C755 736.2 751.8 744.8 749 752C746.2 759.2 742.3 766.4 739 772C735.7 777.6 732.8 781 729 785.5C725.2 790 719.8 793.8 716 798.7C712.2 803.6 709.3 809.5 706 815C702.7 820.5 700.4 827.8 696 832C691.6 836.2 685.5 838.9 679.4 840C673.3 841.1 666.1 839.4 659.5 838.6C652.9 837.8 645.6 835 639.5 835C633.4 835 627.4 836.6 623 838.6C618.6 840.6 615.2 843.4 613 847C610.8 850.6 609 854.9 610 860C611 865.1 615.2 870.5 619 877.5C622.8 884.5 628.3 895 633 902C637.7 909 641.2 915.5 647 919.6C652.8 923.7 659.8 926.6 668 926.6C676.2 926.6 686.7 921.4 696 919.6C705.3 917.8 715.8 915.4 724 916C732.2 916.6 739.2 918.9 745 923C750.8 927.1 756.3 934.2 759 940.6C761.7 947 759.2 954.6 761 961.6C762.8 968.6 766.9 975 769.8 982.6C772.7 990.2 776.5 1000 778.5 1007C780.5 1014 782.3 1019.4 782 1024.7C781.7 1030 780 1034.7 776.8 1038.7C773.6 1042.8 768.1 1046.4 762.8 1049C757.5 1051.6 751.5 1053.3 745 1054.5C738.5 1055.7 731 1056.3 724 1056C717 1055.7 710 1053.9 703 1052.7C696 1051.5 689 1049.6 682 1049C675 1048.4 666.8 1047.2 661 1049C655.2 1050.8 650.5 1055 647 1059.7C643.5 1064.4 641.4 1070.6 640 1077C638.6 1083.4 639.8 1091 638.4 1098C637 1105 634.6 1112.5 631.4 1119C628.2 1125.5 624 1131.5 619 1136.8C614 1142.1 608 1146.8 601.6 1150.8C595.2 1154.8 587.6 1158.1 580.6 1161C573.6 1163.9 567.2 1167.4 559.6 1168C552 1168.6 542.1 1166.8 535 1164.8C527.9 1162.8 523.2 1157.2 517 1156C510.8 1154.8 504.8 1155.8 497.5 1157.8C490.2 1159.8 481.2 1164 473 1168C464.8 1172 456.1 1177.3 448.5 1182C440.9 1186.7 435.1 1192.2 427.5 1196C419.9 1199.8 411.2 1204.3 403 1205C394.8 1205.7 386 1203.2 378.4 1200C370.8 1196.8 363 1191.3 357.4 1186C351.8 1180.7 347.6 1174.5 345 1168C342.4 1161.5 341.3 1154 341.6 1147C341.9 1140 346.6 1133 346.9 1126C347.2 1119 345.7 1112 343.4 1105C341.1 1098 337 1091 332.9 1084C328.8 1077 323 1070 318.9 1063C314.8 1056 311.8 1049 308.3 1042C304.8 1035 301.3 1028 297.8 1021C294.3 1014 290.8 1007 287.3 1000C283.8 993 279.4 986.6 276.8 979C274.2 971.4 271.5 962.8 271.5 954.6C271.5 946.4 275.3 938.2 276.8 930C278.3 921.8 280.6 913.7 280.3 905.5C280 897.3 277.4 888.6 275 881C272.6 873.4 269.2 867.7 266 860C262.8 852.3 259.2 843.5 255.8 835C252.4 826.5 248.6 818.1 245.8 808.7C243 799.3 240.4 788.2 239 778.8C237.6 769.3 238.6 760.9 237.5 752C236.4 743.1 234.5 733.9 232.6 725.6C230.7 717.3 228.5 709.2 226 702C223.5 694.8 220.1 689.7 217.6 682.5C215.1 675.3 212.1 666.8 211 659C209.9 651.2 209.7 642.7 211 636C212.3 629.3 214.3 623.2 219 619C223.7 614.8 231.2 612.7 239 611C246.8 609.3 255.8 609.2 265.8 609C275.8 608.8 288 609.4 299 610C310 610.6 320.9 611.4 332 612.7C343.1 614 354.4 615.8 365.5 617.7C376.6 619.6 388.8 622.1 398.7 624C408.6 625.9 417.3 628.7 425 629C432.7 629.3 440.2 628.2 445 626C449.8 623.8 452.9 619.9 453.5 616C454.1 612.1 451.6 607.7 448.5 602.7C445.4 597.7 438.9 591.5 435 586C431.1 580.5 428.8 575 425 569.5C421.2 564 416.9 558.6 412 553C407.1 547.4 402.1 541 395.4 536C388.7 531 379.7 527.4 372 523C364.3 518.6 356.7 514.1 349 509.7C341.3 505.3 332.8 500.8 325.6 496.4C318.4 491.9 311.7 488 305.6 483C299.5 478 294 472 289 466.5C284 461 278.5 455 275.7 450C272.9 445 271.8 440.5 272.4 436.6Z"/>
<path fill="#ec5430" d="M510.5 1310C510.5 1308 509.3 1304.1 510.5 1298C511.7 1291.9 514 1281.1 517.5 1273.5C521 1265.9 526.2 1258.1 531.5 1252.5C536.8 1246.9 542.6 1242.9 549 1240C555.4 1237.1 563 1235.2 570 1235C577 1234.8 584.6 1236.2 591 1238.5C597.4 1240.8 603.9 1244.3 608.6 1249C613.3 1253.7 616.4 1260.7 619 1266.5C621.6 1272.3 623.2 1278.8 624.4 1284C625.6 1289.2 625.7 1293.7 626 1298C626.3 1302.3 626 1308 626 1310Z"/>
<path fill="#b4380e" d="M533 1310C533 1308 532.1 1302.9 533 1298C533.9 1293.1 535.8 1286.3 538.5 1280.5C541.2 1274.7 544.9 1267.4 549 1263C553.1 1258.6 557.7 1255.5 563 1254C568.3 1252.5 575.3 1252.5 580.6 1254C585.9 1255.5 590.8 1259.2 594.6 1263C598.4 1266.8 601.3 1271.2 603.4 1277C605.5 1282.8 606.4 1292.5 607 1298C607.6 1303.5 607 1308 607 1310Z"/>
<path fill="#b4380e" d="M520 405C526.9 404.7 533.3 404.2 540 405C546.7 405.8 554 408 560 410C566 412 571.7 413.9 576 417C580.3 420.1 582.7 423.9 586 428.6C589.3 433.3 594 439.3 596 445C598 450.7 599.7 456.7 598 463C596.3 469.3 591.3 477.7 586 483C580.7 488.3 574.8 492 566 494.7C557.2 497.4 543.2 499 533 499C522.8 499 511.9 496.5 505 494.7C498.1 492.9 496.7 492.1 491.7 488C486.7 483.9 479.3 476.7 475 470C470.7 463.3 467.7 454.2 466 448C464.3 441.8 464.6 436.8 465 433C465.4 429.2 466.3 428 468.5 425C470.7 422 473.4 418 478.4 415C483.4 412 491.5 408.7 498.4 407C505.3 405.3 513.1 405.3 520 405Z"/>
<path fill="#b4380e" d="M513 732.3C510.2 734.8 503.5 733.6 498.8 733C494.1 732.4 488.7 730.3 484.6 728.7C480.5 727.1 478.9 726.7 474 723.4C469.1 720.1 461.5 713.7 455 709C448.5 704.3 441.2 699.1 434.9 695C428.6 690.9 423.5 687.9 417 684.4C410.5 680.9 402.9 676.5 395.8 673.7C388.7 670.9 381 668.6 374.5 667.7C368 666.8 361.6 667.1 356.8 668.4C352.1 669.7 348.4 671.4 346 675.5C343.6 679.6 343.5 686.5 342.6 693C341.7 699.5 342.3 707.4 340.8 714.5C339.3 721.6 336.7 729.3 333.7 735.8C330.7 742.3 326.3 747.7 323 753.6C319.7 759.5 316.4 764.5 314 771C311.6 777.5 310.2 784.9 308.9 792.6C307.6 800.4 306.7 808.6 306.4 817.5C306.1 826.4 306.4 836.3 307 845.9C307.6 855.5 308.9 865.5 310 875C311.1 884.5 312.5 894.4 313.5 902.6C314.5 910.8 314.7 916.3 316 924C317.3 931.7 319.2 940.5 321.3 948.8C323.4 957.1 325.7 965.3 328.4 973.6C331.1 981.9 334.1 990.3 337.3 998.5C340.6 1006.7 344.1 1015.9 347.9 1023C351.7 1030.1 355.6 1035.7 360.3 1041C365 1046.3 371.6 1051.5 376.3 1055C381 1058.5 383.4 1059 388.7 1062C394 1065 401.5 1069.7 408 1073C414.5 1076.3 421 1079 427.8 1082C434.6 1085 441.3 1088.8 449 1090.8C456.7 1092.8 465.7 1094.3 474 1094C482.3 1093.7 490.5 1091.3 498.8 1089C507.1 1086.7 515.9 1082.7 523.6 1080C531.3 1077.3 539.6 1074.8 544.9 1073C550.2 1071.2 552.5 1071.9 555.5 1069.5C558.5 1067.1 559.6 1063.5 562.6 1058.8C565.6 1054 569.1 1047 573.3 1041C577.4 1035 582.2 1028.3 587.5 1023C592.8 1017.7 599.1 1013.7 605 1009C610.9 1004.3 617.9 999.4 623 995C628.1 990.6 633.1 986.7 635.4 982.5C637.7 978.3 637.9 975.1 637 970C636.1 964.9 632.9 957.9 630 952C627.1 946.1 622.9 940.5 619.4 934.6C615.9 928.7 612.4 921.6 608.8 916.8C605.2 912 601.5 909.3 598 906C594.5 902.7 592.2 902.2 587.5 897C582.8 891.8 575.6 882.3 570 875C564.4 867.7 557.4 860.2 553.8 853C550.2 845.8 550.5 838.9 548.4 831.7C546.3 824.5 544 817.1 541 810C538 802.9 533.9 795.5 530.7 789C527.5 782.5 524.1 776.3 521.8 771C519.5 765.7 517.3 761.1 517 757C516.7 752.9 517.7 748.8 520 746.5C522.3 744.2 524.8 743.9 530.7 743C536.6 742.1 546.6 741.6 555.5 741C564.4 740.4 573.4 740 584 739.4C594.6 738.8 608.8 738.2 619.4 737.6C630 737 640.1 737 647.8 735.8C655.5 734.6 660.6 733.1 665.6 730.5C670.6 727.9 674.8 725.1 678 720C681.2 714.9 683.8 707.4 685 700C686.2 692.6 685.6 683.2 685 675.5C684.4 667.8 683 659.9 681.5 654C680 648.1 678 644.8 676 640C674 635.2 672.1 630.5 669.4 625C666.6 619.5 662.3 612.4 659.5 607C656.7 601.6 656.1 596.5 652.8 592.7C649.5 589 644.5 585.6 639.5 584.5C634.5 583.4 628.6 584.1 623 586C617.4 587.9 611.5 591.3 606 596C600.5 600.7 595.2 607.9 589.7 614C584.2 620.1 577.5 627.1 573 632.6C568.5 638.1 566.7 641.6 562.6 647C558.5 652.4 553.2 658.9 548.4 664.8C543.6 670.7 538.4 676.7 534 682.6C529.6 688.5 524.8 694.1 521.8 700C518.8 705.9 517.3 712.6 515.8 718C514.3 723.4 515.8 729.8 513 732.3Z"/>
<path fill="#9a0000" d="M406.5 731.6C413 731.4 418.1 732.1 424 734C429.9 735.9 436.1 739.7 442 743C447.9 746.3 453.8 749.5 459.7 753.6C465.6 757.7 472.8 762.5 477.5 767.8C482.2 773.1 484.8 779 488 785.5C491.2 792 494.3 799.7 497 806.8C499.7 813.9 501.3 820.9 504 828C506.7 835.1 509.7 842.9 513 849.4C516.3 855.9 519.5 861.1 523.6 867C527.7 872.9 533.1 879.7 537.8 885C542.5 890.3 547.3 894 552 899C556.7 904 562.2 909.1 566 915C569.8 920.9 573.2 927.8 575 934.6C576.8 941.4 577.7 949.4 576.8 955.9C575.9 962.4 573.2 968.3 569.7 973.6C566.2 978.9 559.6 983.1 555.5 987.8C551.4 992.5 548.5 996.7 544.9 1002C541.3 1007.3 538.1 1014.5 534 1019.8C529.9 1025.1 525.3 1030.2 520 1034C514.7 1037.8 507.9 1041 502 1042.8C496.1 1044.6 490.5 1045.5 484.6 1044.6C478.7 1043.7 472.7 1040.8 466.8 1037.5C460.9 1034.2 455 1029.8 449 1025C443 1020.2 436.9 1014.7 431 1009C425.1 1003.3 418.9 996.9 413.6 991C408.3 985.1 404.2 980.6 399.4 973.6C394.6 966.6 389.7 957.7 385 948.8C380.3 939.9 375.1 929.3 371 920.4C366.9 911.5 363.6 903.8 360.3 895.5C357.1 887.2 354.1 879.6 351.5 870.7C348.9 861.8 345.9 851.8 344.4 842.3C342.9 832.8 342 822.9 342.6 814C343.2 805.1 345.5 796.7 347.9 789C350.3 781.3 353.3 774.6 356.8 767.8C360.3 761 364.3 753.5 369 748C373.7 742.5 378.8 737.7 385 735C391.2 732.3 400 731.8 406.5 731.6Z"/>
</g>
</g>
<g class="t"><path d="M53.5 43.1L59.6 50.1L61.4 68.3L64.8 58.8L67.5 65.7L70.9 60.5L81.4 67.5L93.5 71.8L104 76.1L110.9 83.1L117 85.7L118.7 105.7L116.1 110L123.9 110.9L128.3 119.6L124.8 124.8L126.6 130.9L133.5 130.9L137 135.2L135.2 142.2L130 148.3L137 140.5L138.7 134.4L145.7 133.5L147.4 129.2L149.2 132.6L154.4 130.9M88.3 82.2L93.5 79.6L105.7 79.6L97 90.9L93.5 91.8L88.3 86.6L88.3 82.2M157 123.1L163.1 124.8L171.7 122.2L180.4 117L185.7 118.7L197.8 114.4L201.3 117L204.8 123.1L211.7 128.3L218.7 135.2L215.2 123.1L206.5 116.1L215.2 117.9L220.4 123.9L225.6 133.5L234.3 140.5L220.4 142.2L206.5 143.1L204.8 151.8L196.1 147.4L185.7 142.2L177 138.7L163.1 139.6L157.8 145.7L152.6 152.6L151.8 161.3L156.1 166.5L152.6 163.1L143.9 163.1L149.2 165.7L143.9 170L145.7 175.2L152.6 178.7L157.8 185.7L159.6 196.1L156.1 201.3L154.4 207.4L149.2 210L147.4 218.7L151.8 220.4M170 143.9L177 141.3L183 151.8L180.4 155.2L170 154.4L170 143.9M174.4 168.3L180.4 161.3L188.3 157.8L195.2 163.9M255.2 117L244.8 110L238.7 103.1L236.9 95.3L238.7 88.3L243 81.4L250 72.7L254.3 70.9L258.7 78.8L271.7 77.9L274.3 81.4L270.8 72.7L269.1 67.5L274.3 68.3L279.5 76.1L288.2 68.3L293.4 64.8L302.1 67.5L298.6 81.4L293.4 76.1L289.9 72.7L295.2 81.4L298.6 85.7L310.8 83.1L317.8 90.9L319.5 86.6L316 77.9L323 64L329.9 59.6M262.1 123.1L270.8 130L279.5 131.8L289.9 131.8L279.5 135.2L274.3 142.2L270.8 145.7L256.9 150.9L255.2 155.2L239.5 157.8L229.1 164.8L218.7 171.7L211.7 179.6L206.5 177L197.8 178.7L185.7 185.7L188.3 201.3L196.1 203L204.8 202.2L211.7 208.3L215.2 220.4L225.6 226.5L239.5 225.6L253.4 222.2L267.4 218.7L276 213.5L279.5 220.4L289.9 223.9L295.2 230.8L305.6 231.7L314.3 236.1L319.5 229.1L328.2 216.9L336.9 206.5L343.8 203M258.7 163.1L267.4 159.6L274.3 168.3L284.7 168.3L283.9 177L274.3 180.4L267.4 173.5L258.7 163.1M250 188.3L267.4 187.4L276.9 192.6L265.6 193.5L250 188.3M296 203.9L300.4 215.2L302.1 225.6L304.7 218.7L297.8 204.8M221.3 227.4L232.6 230L246.5 230L232.6 228.2M246.5 246.5L256.9 243L267.4 247.4L263.9 251.7L251.7 251.7L246.5 246.5M325.4 61.2L329.3 71L333.3 60.2L339.1 59.2L336.2 69L345 74.9L341.1 82.7L348.9 71.9L353.8 86.6L356.7 78.8L360.7 81.7L358.7 92.5L366.5 94.4L376.3 101.3L378.3 95.4L382.2 106.2L377.3 110.1L374.3 114L378.3 117.9L386.1 116.9L392 119.9L382.2 112L384.1 106.2L393.9 108.1L403.7 114L401.7 120.8L409.6 122.8L417.4 125.7L413.5 117.9L421.3 125.7L425.2 130.6L433 124.8L442.8 127.7L450.7 132.6L456.5 126.7L462.4 131.6L470.2 132.6L476.1 137.5L478 143.4L482 138.5L487.8 144.3L491.7 133.6L497.6 141.4L495.7 147.3L501.5 146.3L507.4 149.2L510.3 154.1L513.3 147.3L521.1 148.2L530.9 152.2L534.8 157L542.6 162.9L548.5 168.8L542.6 167.8L550.4 169.8L556.3 159L558.3 172.7L556.3 179.5L562.2 170.7L567.1 174.7L564.1 184.4L573.9 186.4L581.7 190.3L589.6 188.4L585.7 194.2L597.4 194.2L591.5 204L583.7 206L595.4 208.9L602.3 209.9L597.4 216.7L589.6 220.6L599.4 219.7L604.2 217.7L603.3 227.5L601.3 237.3L593.5 236.3L581.7 236.3M499.6 127.7L507.4 130.6L503.5 135.5L515.2 133.6L511.3 141.4L507.4 139.4M508.4 127.7L515.2 127.7L523 134.5L513.3 131.6M525 145.3L532.8 143.4L540.7 149.2L534.8 151.2L525 145.3M573.9 173.7L581.7 177.6L577.8 178.6L573.9 173.7M553.4 229.4L560.2 228.5L570 233.4L562.2 236.3L554.4 234.3L553.4 229.4M300 231.4L313.7 236.3L321.5 227.5L329.3 211.8L335.2 204L350.9 200.1L353.8 203L372.4 195.2L378.3 200.1L385.1 196.2L382.2 201.1L393.9 206L405.7 209.9M408.6 214.8L417.4 218.7L435 220.6L438.9 215.7L454.6 213.8L466.3 218.7L472.2 229.4L475.1 235.3L472.2 245.1L466.3 251L460.4 253.9L454.6 249L444.8 247L437 241.2L425.2 242.2L413.5 239.2L401.7 234.3L392 233.4L380.2 239.2L368.5 245.1L358.7 251L347 253.9L344 264.7L341.1 276.4L339.1 283M326.4 244.1L332.3 240.2L329.3 244.1M417.4 278.4L422.3 275.4L420.3 283M589.6 256.8L595.4 254.9L591.5 258.8L593.5 266.6M310.8 65.1L313.7 86.6L319.6 90.5L315.7 82.7L312.7 66.1M375.2 304.6L381.1 290.9L388.9 289.9L404.6 287.9L408.5 282.1L418.3 280.1L422.2 275.2L418.3 285L424.1 290.9L414.3 291.8L406.5 292.8L398.7 288.9L390.9 290.9L382.1 298.7L383 303.6L376.2 304.6M414.3 314.3L418.3 304.6L428 292.8L435.9 286L432 293.8L426.1 298.7L430 306.5L422.2 302.6L424.1 316.3L418.3 308.5L414.3 314.3M398.7 326.1L392.8 316.3L398.7 310.4L406.5 314.3L412.4 306.5L416.3 317.3L424.1 320.2L430 321.2L424.1 326.1L416.3 332L408.5 329L404.6 324.1L398.7 326.1M504.4 375L502.4 365.2L500.4 351.5L506.3 341.7L516.1 332L527.8 326.1L531.7 314.3L535.7 294.8L539.6 288.9L537.6 298.7L543.5 314.3L549.4 333.9L557.2 355.4L574.8 363.3L592.4 355.4L598.3 341.7L600.2 318.3L598.3 298.7L601.2 287M340 259.6L347.8 251.7L359.6 249.8L375.2 240M340 285L351.7 298.7L365.4 312.4L373.3 328L377.2 357.4L376.2 343.7M340 314.3L345.9 330L359.6 341.7L369.3 355.4L376.2 361.3M390.9 361.3L402.6 343.7L418.3 346.6L416.3 359.4L414.3 369.1M449.6 245.9L461.3 253.7L469.1 245.9L473 240M475 364.2L480.9 354.5L486.7 353.5L483.8 363.3L475 364.2M516.1 361.3L524.9 353.5L529.8 365.2L533.7 380.9L541.5 385.8L535.7 383.8L527.8 373L520 371.1L516.1 361.3M465.2 373L461.3 386.7L449.6 396.5L443.7 408.3L435.9 402.4L432 394.6L441.7 380.9L451.5 369.1L461.3 377M578.7 377L584.6 375L591.4 394.6L600.2 388.7L613.9 377L623.7 365.2L627.6 361.3L633.5 349.6L645.2 365.2L639.4 375L623.7 377L617.8 390.7M666.7 371.1L672.6 366.2L684.4 375L676.5 379.9L666.7 371.1M625.7 401.4L639.4 397.5L657 396.5L672.6 398.5L688.3 400.4L692.2 404.4L700 400.4M398.7 453.3L406.5 465L414.3 451.3L418.3 457.2L412.4 459.1L408.5 478.7L400.7 474.8L398.7 453.3M590.4 259.6L594.4 253.7L597.3 255.7L591.4 261.5L592.4 269.3M698.7 87.6L704.6 84.7L707.5 76.8L715.3 71L717.3 80.7L723.2 67L726.1 81.7L724.1 69L730 71L737.8 78.8L742.7 75.8L739.8 68L732 66.1L730 63.1L737.8 60.2L741.7 53.3L748.6 53.3L753.5 50.4L755.4 46.5M760.3 46.5L767.2 55.3L759.4 54.3L766.2 59.2L756.4 60.2L761.3 65.1L750.5 72.9L763.3 67L774 66.1L765.2 76.8L757.4 82.7L756.4 92.5L749.6 93.5L737.8 89.5L722.2 88.6L706.5 89.5L698.7 87.6M769.1 83.7L776 85.6L773 76.8L778.9 73.9L789.7 75.8L783.8 87.6L791.6 86.6L788.7 92.5L792.6 94.4L792.6 105.2L780.9 106.2L769.1 103.2L769.1 83.7M722.2 115L730 104.2L739.8 101.3L741.7 110.1L735.9 117.9L722.2 115M740.8 98.3L748.6 96.4L744.7 104.2L740.8 98.3M843.5 154.1L855.2 161.9L847.4 161L843.5 154.1M841.5 172.7L845.4 171.7L846.4 165.9L851.3 164.9L863 165.3L863 169.8L851.3 170.7L841.5 172.7M876.7 170.7L881.6 183.5M885.5 190.3L890.4 187.4L896.3 187.4L889.5 196.2L885.5 190.3M899.2 189.9L911 192.3M732.9 333.6L749.6 329.7L752.5 321.8L765.2 318.9L775 319.9L774 313L782.8 307.2L794.6 302.3L802.4 293.5L816.1 288.6L827.8 284.7L835.7 281.7L841.5 270M761.3 343.4L773 335.5L776 326.7L775 320.9M777 318.9L782.8 328.7L790.7 317.9L804.4 316M843.5 283.7L855.2 287.6L870.9 286.6L883.6 282.7L884.6 295.4L870.9 300.3L855.2 302.3L839.6 304.2L827.8 307.2L820 312.1M827.8 526.3L835.7 516.5L845.4 504.8L852.3 491.1L853.3 475.4L855.2 457.8L861.1 442.2L863 426.5L865 412.8L872.8 403L874.8 387.4L867 380.5L855.2 376.6L849.4 387.4L835.7 403L823.9 410.9L822 426.5L816.1 436.3L810.2 444.1L818 450L820 465.7L814.1 475.4M896.3 393.3L892.4 407L890.4 420.7L898.3 432.4L910 440.2L902.2 426.5L896.3 418.7L908 410.9L921.7 408.9L933.5 420.7L943.3 426.5L947.2 440.2L948.2 453.9L943.3 465.7M892.4 403L880.7 407L874.8 416.7L873.8 436.3L870.9 446.1L865 457.8L867 473.5L880.7 477.4L888.5 489.1L890.4 497L884.6 510.7L882.6 514.6M960.9 383.5L945.2 382.5L935.4 383.5L933.5 407L937.4 418.7L945.2 426.5L941.3 438.3L937.4 453.9L945.2 450L941.3 463.7M1000 340.4L980.4 350.2L979.5 356.1L976.5 360L978.5 367.8L972.6 369.8L978.5 375.7L976.5 387.4M864 371.7L871.9 369.8L868.9 375.7M951.1 338.5L950.1 345.3M667.4 371.7L674.2 366.8L684 374.7L677.2 379.6L667.4 371.7M640 360L643.9 365.9L640 375.7M732 352.2L729 357.1L733.9 355.1L732 363.9L737.8 369.8L745.7 375.7L753.5 381.5M640 398.2L651.7 397.2L665.4 399.1L687 401.1L690.9 405L698.7 401.1L705.5 405L693.8 414.8L702.6 422.6L718.3 420.7L722.2 425.5L737.8 428.5L741.7 432.4L737.8 438.3L749.6 438.3L757.4 426.5L765.2 416.7L777 424.6L788.7 436.3L796.5 452L806.3 471.5L809.2 479.4M755.4 403L757.4 397.2L763.3 405L759.4 410.9M884.6 495L878.7 483.3L863 487.2L863 498.9L853.3 510.7L841.5 522.4L827.8 529M24 545.4L29.6 549L38.1 546.1L42.4 546.8L49.4 540.5L50.8 543.3L56.5 544L65 546.8L79.1 547.5M86.9 553.9L93.2 555.3L90.4 559.5L89 561L91.8 566.6L86.9 568L86.1 573.7L89 579.3L93.2 585L97.4 590.6L96.7 600.5L86.1 596.3L74.8 592L73.4 599.1L73.4 614.6L62.1 623.1L67.8 631.6L77.7 633L86.1 640.1L94.6 642.9L101.7 649.9L105.9 656.3L114.4 653.5L113 647.1L107.3 642.9L101.7 640.1L103.1 631.6L107.3 621.7L110.9 617.5L112.3 613.2L103.1 612.5L105.9 610.4L101 601.9L104.5 598.4L111.6 613.2L122.9 617.5L117.2 621L125.7 621.7L131.3 623.1L137 628.8L144.1 633L151.1 637.2L156.8 640.1L162.4 644.3L168.1 645L173.7 649.9L179.4 654.2L183.6 657.7L185.7 666.9L176.5 662.7L168.1 658.4L163.8 662.7L160.3 655.6L156.8 661.2M93.2 555.3L98.2 561L104.5 556M98.2 561L96 569.4L100.3 573M103.1 575.1L108.7 580.7L114.4 585L122.9 584.3L134.2 581.4L139.8 585L146.9 593.4L151.1 593.4M114.4 585L115.8 587.1L134.2 586.4L141.2 593.4L146.9 601.2L151.1 599.1M161 520L159.6 534.1L165.2 531.3L163.1 548.2L168.1 582.1L155.4 590.6M164.5 520L163.1 528.5L166.7 532.7L165.2 548.2L169.5 583.6M153.9 668.3L144.1 669L146.9 665.5L137 667.6L128.5 673.2L122.9 666.9L120 662.7L120 659.1L115.8 659.1L112.3 664.1L113.7 675.4L114.4 689.5L115.8 707M230.9 695.1L235.9 702.2L241.5 707M238.7 700.8L250 698.7L264.1 695.8L284 691.6M241.5 705L257.1 700.8L284 694.4M24 721.3L29.9 729.1L35.7 744.8L39.7 754.6L49.4 764.3L57.3 772.2L63.1 785.9L78.8 793.7L94.4 799.6L108.1 793.7L116 782L118.9 768.3L117.9 748.7L115 729.1L114 709.6L116 690M206 949L203 934.6L204 915L207.9 895.4L207.9 875.9L211.8 862.2L219.7 850.4L227.5 838.7L229.4 827L234.3 815.2L237.3 815.2L249 812.3L258.8 807.4L262.7 803.5L270.5 810.3L284.2 813.3L297.9 811.3L307.7 815.2L321.4 817.2L337.1 819.1L344.9 830.9L356.6 840.7L362.5 844.6L356.6 856.3L346.8 866.1L335.1 875.9L323.4 866.1L313.6 862.2M281.3 862.2L284.2 866.1L282.3 881.7L278.4 895.4L274.4 905.2L278.4 917L286.2 928.7L278.4 938.5L270.5 949M43.6 871L53.3 869L61.2 875.9L65.1 873.9L71 878.8L59.2 880.8L55.3 885.7L49.4 877.8L43.6 871M76.8 924.8L71 936.5L67 949M84.7 928.7L78.8 942.4L76.8 949M229.4 695.9L239.2 706.6L247 703.7L254.9 697.8M274.4 709.6L297.9 701.7L329.2 693.9L326.3 699.8L307.7 703.7L274.4 709.6M202.8 900L201.8 919.6L204.8 931.3L206.7 947L203.8 952.8M206.7 947L192.1 947L171.5 963.6M150 969.5L159.8 962.6L169.6 960.7M277.2 900L273.3 907.8L277.2 917.6L283 925.4L287 931.3L277.2 939.1L271.3 948.9L267.4 960.7L263.5 970.4L271.3 960.7L283 951.8L296.7 960.7L294.8 970.4L290.9 978.3L294.8 993.9L285 999.8L275.2 993.9L267.4 986.1L259.6 978.3L251.7 984.1M247.8 1001.7L251.7 1005.7L248.8 1012.5L242 1011.5L240 1015.4L243.9 1021.3L245.9 1033L236.1 1044.8L228.3 1056.5L222.4 1068.3L216.5 1078L204.8 1079L193 1074.1L181.3 1066.3L169.6 1060.4L163.7 1054.6M400.4 975.3L404.4 968.5L412.2 950.9L420 939.1L431.7 931.3L437.6 928.4L443.5 929.3L445.4 935.2L453.3 931.3L463.1 927.4L470.9 923.5L478.7 925.4L484.6 931.3L494.4 935.2L482.6 939.1L474.8 943L470.9 958.7L474.8 966.5L476.7 978.3L470.9 980.2L463.1 984.1L455.2 990L443.5 993.9L439.6 1001.7L427.8 997.8L423.9 995.9L420 992L412.2 984.1L410.2 974.3L406.3 978.3L400.4 975.3M150 1025.2L152 1037L155.9 1040.9M687.5 1045.7L696.2 1066.7L699.7 1052.7L710.2 1038.7L724.2 1031.7L745.3 1035.2L769.8 1045.7L787.3 1051L796.1 1049.2L797.1 1042.2L787.3 1040.4L766.3 1035.2L745.3 1028.2L720.7 1024.7L706.7 1028.2L687.5 1045.7M717.2 1149.1L738.3 1143.8L759.3 1150.8L741.8 1159.6L717.2 1149.1M887.2 979.1L895.9 989.6L885.4 1003.7L880.2 1014.2L888.9 1024.7L899.4 1028.2L888.9 1019.4L883.7 1007.2L892.4 996.7L895.9 986.1L887.2 979.1M183.8 283.7L195.2 292.8L208.8 299.6L224.6 297.3L240.5 290.5L258.6 287.1L279 288.2L281.3 297.3L274.5 308.6L272.2 320L281.3 325.6L292.6 318.8L306.2 308.6L308.5 299.6L319.8 295L326.6 297.3L335.7 308.6L340.2 308.6L347 322.2L358.3 333.5L367.4 342.6L376.5 349.4L376.5 360.7M288.1 288.2L297.1 281.4L305.1 291.6L294.9 292.8L288.1 288.2M185 272.4L190.6 267.8L186.1 276.9L195.2 288.2L199.7 295M208.8 297.3L217.8 301.8L224.6 298.4M453.2 635.9L435 642.7L426 654.1L421.4 672.2L428.2 658.6L426 669.9M457.7 635.9L475.8 645L489.4 651.8L480.4 644.1M539.3 640.5L557.4 638.2L555.1 647.3L541.5 645.9M414.6 547.6L426 534L437.3 532.6L428.2 538.5L419.2 545.3"/></g>
<g clip-path="url(#dL)">
<g class="k" stroke-width="5">
<path d="M10 337C12.3 337 16.2 336.8 24 337C31.8 337.2 45 339.3 56.5 338C68 336.7 83.1 333.8 93 329C102.9 324.2 108.8 315.7 116 309C123.2 302.3 129.3 294.3 136 289C142.7 283.7 151.5 281.5 156 277C160.5 272.5 161 267.3 163 262C165 256.7 166.7 252.2 168 245C169.3 237.8 170.8 226.7 171 219C171.2 211.3 168.9 205.6 169.5 199C170.1 192.4 171.8 184.4 174.5 179.5C177.2 174.6 181.3 172.2 186 169.5C190.7 166.8 197.2 166.9 202.7 163C208.2 159.1 212.9 151.8 219 146C225.1 140.2 232.8 132.4 239 128C245.2 123.6 248.2 120.8 256 119.6C263.8 118.4 275.5 119.9 286 121C296.5 122.1 310.2 126 319 126C327.8 126 334 123.7 339 121C344 118.3 347.7 113.8 349 109.6C350.3 105.4 349 100.2 347 96C345 91.8 340.7 89.4 337 84.7C333.3 80 328.7 73.8 325 68C321.3 62.2 317.4 54.7 315 50C312.6 45.3 311.6 44.3 310.6 40C309.6 35.7 309.3 29 309 24C308.7 19 309 12.3 309 10"/>
<path d="M950 255C948.1 257.2 947.1 265.7 938.6 268.4C930.1 271.1 911.5 270.1 898.7 271C885.9 271.9 871.5 272.3 862 274C852.5 275.7 847.2 278 842 281C836.8 284 833.9 287.8 830.6 292C827.3 296.2 823.9 300 822 306C820.1 312 818.7 320.6 819 328C819.3 335.4 821.8 344.5 824 350.5C826.2 356.5 827.8 359.2 832 364C836.2 368.8 842.3 374.7 849 379C855.7 383.3 863.7 387 872 390C880.3 393 889.3 395.7 898.7 397C908.1 398.3 918.4 397.8 928.6 398C938.8 398.2 951.1 398.2 960 398C968.9 397.8 975.2 397.2 981.7 397C988.2 396.8 993.5 397 999 397C1004.5 397 1012.3 397 1015 397"/>
<path d="M15 800C16.7 802.8 22 811.2 25 817C28 822.8 31 827.8 33 835C35 842.2 35.3 852.3 36.8 860C38.3 867.7 39.4 874 42 881C44.6 888 48.4 896.5 52.5 902C56.6 907.5 60.6 910.5 66.5 914C72.3 917.5 81.2 919.5 87.6 923C94 926.5 100.3 929.7 105 935C109.7 940.3 112.9 947.3 115.6 954.6C118.3 961.9 119.8 970.8 121 979C122.2 987.2 121.2 996.6 122.6 1003.6C124 1010.6 125.5 1015.8 129.6 1021C133.7 1026.2 140.6 1029.7 147 1035C153.4 1040.3 161.6 1046.9 168 1052.7C174.4 1058.5 180.4 1063.6 185.7 1070C191 1076.4 195.9 1083.4 199.7 1091C203.5 1098.6 206.9 1107.6 208.5 1115.8C210.1 1124 209.2 1134.3 209 1140C208.8 1145.7 207.3 1148.3 207 1150"/>
<path d="M240 1200C240.7 1201.2 240.8 1203 244 1207C247.2 1211 254.4 1218.2 259 1224C263.6 1229.8 268.2 1235.5 271.5 1242C274.8 1248.5 277.4 1256.7 279 1263C280.6 1269.3 281 1274.2 281 1280C281 1285.8 279.3 1293 279 1298C278.7 1303 279 1308 279 1310"/>
<path d="M44 10C45 12.3 46.3 18.5 50 24C53.7 29.5 60 37 66 43C72 49 78.2 53.8 86 60C93.8 66.2 105.2 74.5 113 80C120.8 85.5 126.9 90.2 133 93C139.1 95.8 143.4 97 149.5 97C155.6 97 162.9 95.8 169.5 93C176.1 90.2 182.9 85.5 189 80C195.1 74.5 201 66.7 206 60C211 53.3 215.4 46 219 40C222.6 34 225.5 29 227.5 24C229.5 19 230.4 12.3 231 10"/>
<path d="M149 560C149.7 557.9 151 551.5 153 547.5C155 543.5 158.5 539.3 161 535.7C163.5 532.1 167 529.8 168 526C169 522.2 168.8 517.8 167 513C165.2 508.2 161.5 502.5 157 497C152.5 491.5 144.3 485.2 140 480C135.7 474.8 132.7 469.7 131 466C129.3 462.3 130 460.8 129.6 458C129.2 455.2 128.1 452.4 128.6 449C129.1 445.6 130.5 441.1 132.6 437.5C134.7 433.9 137.3 430.9 141.4 427.7C145.5 424.4 151.1 421.6 157 418C162.9 414.4 170.2 410 176.8 406C183.4 402 189.9 397.3 196.4 394C202.9 390.7 209.4 388.5 216 386.4C222.6 384.3 227.4 383.3 235.7 381.5C244 379.7 255.2 377.5 265.8 375.4C276.4 373.3 289 371 299 368.8C309 366.6 316.8 364.5 325.6 362C334.4 359.5 343.7 357.3 352 354C360.3 350.7 369.6 346.2 375.4 342C381.2 337.8 384.5 334 387 329C389.5 324 390.7 318.2 390.4 312C390.1 305.8 386 298.1 385.4 292C384.8 285.9 384.8 281.2 387 275.7C389.2 270.2 393.4 263.7 398.7 259C404 254.3 410.3 250.5 418.6 247.5C426.9 244.5 438 242.7 448.5 241C459 239.3 473.1 238.1 481.7 237.5C490.3 236.9 491.7 237.8 500 237.5C508.3 237.2 523.3 235.6 531.6 236C539.9 236.4 543.9 237.5 550 240C556.1 242.5 563 247.2 568 251C573 254.8 575 259.2 579.7 262.5C584.4 265.8 590 268.9 596 270.8C602 272.7 606 273.5 616 274C626 274.5 645.3 273 656 274C666.7 275 673.3 276.7 680 280C686.7 283.3 692.2 289.2 696 294C699.8 298.8 699.9 304.3 702.7 309C705.5 313.7 708.2 317.6 712.6 322C717 326.4 723.5 331.3 729 335.5C734.5 339.7 741.3 343.7 745.8 347C750.3 350.3 751.8 350.3 755.8 355.5C759.8 360.7 765 370.2 770 378C775 385.8 780.9 395.2 785.7 402C790.5 408.8 793.5 413.9 799 418.6C804.5 423.3 811.2 427 819 430C826.8 433 837.2 434.9 845.5 436.6C853.8 438.3 861.6 438.3 868.8 440C876 441.7 884.3 444.7 888.7 446.6C893.1 448.5 893 446.9 895.4 451.6C897.8 456.3 901.1 466.4 903 475C904.9 483.6 905.5 494.5 907 503C908.5 511.5 909.8 517.7 912 526C914.2 534.3 916.7 544.7 920 553C923.3 561.3 927.8 569.4 932 576C936.2 582.6 939.5 588.1 945 592.8C950.5 597.5 958.3 601.3 965 604C971.7 606.7 979.3 607.7 985 609C990.7 610.3 994 611.2 999 612C1004 612.8 1012.3 613.7 1015 614"/>
<path d="M1015 659C1012.3 659 1006.5 659.2 999 659C991.5 658.8 978.2 658.1 970 658C961.8 657.9 956.3 657.8 950 658.5C943.7 659.2 938.9 660.8 932 662.5C925.1 664.2 915.6 666.5 908.7 669C901.8 671.5 894.3 674.7 890.4 677.5C886.5 680.3 886.5 681.7 885.4 685.8C884.3 689.9 884.8 696 883.7 702C882.6 708 880.8 715.3 878.8 722C876.8 728.7 875.3 735.3 872 742C868.7 748.7 863.8 756.4 858.8 762C853.8 767.6 848.6 771.6 842 775.5C835.4 779.4 826.2 782.8 819 785.5C811.8 788.2 805.1 789.2 799 792C792.9 794.8 787.4 798.2 782.4 802C777.4 805.8 772.6 810.6 769 815C765.4 819.4 763 823.6 760.8 828.6C758.6 833.6 756.4 839.8 755.8 845C755.2 850.2 755.3 855.2 757 860C758.7 864.8 762.7 869.9 766 874C769.3 878.1 772.5 880.2 776.8 884.5C781.1 888.8 786.8 894.1 792 900C797.2 905.9 804.2 914 808 919.6C811.8 925.2 813.5 928.4 815 933.6C816.5 938.8 817 945.2 817 951C817 956.8 814.7 962.2 815 968.6C815.3 975 816.7 983.2 818.8 989.6C820.9 996 824.4 1001.8 827.6 1007C830.8 1012.2 834.8 1015.7 838 1021C841.2 1026.3 844.7 1032.2 847 1038.7C849.3 1045.2 851.2 1053.3 852 1059.7C852.8 1066.1 852.8 1070.6 852 1077C851.2 1083.4 849.7 1091.5 847 1098C844.3 1104.5 840.2 1110 836 1115.8C831.8 1121.6 826.7 1127.2 822 1133C817.3 1138.8 812.7 1145 808 1150.8C803.3 1156.6 798.7 1163.6 794 1168C789.3 1172.4 784.7 1175.1 780 1177C775.3 1178.9 770 1179.9 766 1179.6C762 1179.3 759.3 1177.5 755.8 1175C752.3 1172.5 748.5 1168.8 745 1164.8C741.5 1160.8 738.3 1154.9 734.8 1150.8C731.3 1146.7 728.1 1143.2 724 1140C719.9 1136.8 715.2 1133.7 710 1131.5C704.8 1129.3 697.4 1127.6 692.7 1127C688 1126.4 685 1127 682 1128C679 1129 677.3 1129.8 675 1133C672.7 1136.2 670.9 1141.2 668 1147C665.1 1152.8 661.2 1162.2 657.7 1168C654.2 1173.8 650.5 1178.2 647 1182C643.5 1185.8 640.1 1189.2 636.6 1191C633.1 1192.8 630.1 1193.3 626 1193C621.9 1192.7 617.2 1190.1 612 1189C606.8 1187.9 599.8 1186.8 594.6 1186.6C589.4 1186.4 582.9 1187.8 580.6 1188"/>
<path d="M582 1201C585.8 1201.7 598.2 1203.5 605 1205C611.8 1206.5 617.9 1206.8 622.6 1210C627.3 1213.2 630.1 1218.2 633 1224C635.9 1229.8 638.2 1237.3 640 1245C641.8 1252.7 642.8 1261.2 643.7 1270C644.6 1278.8 645 1291.3 645.4 1298C645.8 1304.7 645.9 1308 646 1310"/>
<path d="M415 1310C415 1308 417 1304.1 415 1298C413 1291.9 407.9 1281.7 403 1273.5C398.1 1265.3 391.8 1256.6 385.4 1249C379 1241.4 372.6 1234.5 364.4 1228C356.2 1221.5 344.6 1215.3 336.4 1210C328.2 1204.7 321.3 1201.8 315.4 1196C309.5 1190.2 304.8 1182.5 301 1175C297.2 1167.5 294.6 1160.1 292.6 1150.8C290.6 1141.5 290.2 1129.5 289 1119C287.8 1108.5 287.6 1097.1 285.6 1087.8C283.6 1078.5 280.6 1070.6 276.8 1063C273 1055.4 267.2 1049 262.8 1042C258.4 1035 253.7 1028 250.5 1021C247.3 1014 244.1 1007 243.5 1000C242.9 993 244.4 985.4 247 979C249.6 972.6 258.5 967.3 259 961.6C259.5 955.9 254 949.8 250 945C246 940.2 239.9 936.1 235 933C230.1 929.9 226.6 929.4 220.7 926.6C214.8 923.8 206.7 920.1 199.7 916C192.7 911.9 184.5 907.2 178.7 902C172.9 896.8 167.3 891.5 164.7 884.5C162.1 877.5 162.2 866.6 163 860C163.8 853.4 167.9 849.7 169.5 845C171.1 840.3 172.2 837.5 172.8 832C173.4 826.5 173.1 817.5 172.8 812C172.5 806.5 172.3 806 171 799C169.7 792 167.5 779.2 165 770C162.5 760.8 157.5 752.5 156 744C154.5 735.5 155.9 728.7 156 719C156.1 709.3 156.8 696.9 156.8 685.8C156.8 674.7 156.4 663.7 156 652.6C155.6 641.5 155.3 629 154.5 619C153.7 609 152.1 601.6 151 592.8C149.9 584 148.1 571.5 147.8 566C147.5 560.5 148.8 561 149 560"/>
<path d="M1015 895C1012.3 895.3 1006 895.6 999 896.8C992 898 983.2 900.3 973 902C962.8 903.7 949.7 905.2 938 907C926.3 908.8 912.9 910.2 903 912.5C893.1 914.8 884.8 917.5 878.4 921C872 924.5 865.6 929.2 864.4 933.6C863.2 938 867.9 942.9 871.4 947.6C874.9 952.3 880.1 956.9 885.4 961.6C890.7 966.3 897.7 971.2 903 975.6C908.3 980 912.9 983.6 917 988C921.1 992.4 923.7 995 927.5 1002C931.3 1009 935.3 1021.5 940 1030C944.7 1038.5 950.6 1046.9 955.5 1052.7C960.4 1058.5 964.2 1061.5 969.5 1065C974.8 1068.5 980.2 1070.9 987 1073.7C993.8 1076.5 1006.2 1080.6 1010 1082"/>
<path d="M533 1310C533 1308 532.1 1302.9 533 1298C533.9 1293.1 535.8 1286.3 538.5 1280.5C541.2 1274.7 544.9 1267.4 549 1263C553.1 1258.6 557.7 1255.5 563 1254C568.3 1252.5 575.3 1252.5 580.6 1254C585.9 1255.5 590.8 1259.2 594.6 1263C598.4 1266.8 601.3 1271.2 603.4 1277C605.5 1282.8 606.4 1292.5 607 1298C607.6 1303.5 607 1308 607 1310"/>
<path d="M520 405C526.9 404.7 533.3 404.2 540 405C546.7 405.8 554 408 560 410C566 412 571.7 413.9 576 417C580.3 420.1 582.7 423.9 586 428.6C589.3 433.3 594 439.3 596 445C598 450.7 599.7 456.7 598 463C596.3 469.3 591.3 477.7 586 483C580.7 488.3 574.8 492 566 494.7C557.2 497.4 543.2 499 533 499C522.8 499 511.9 496.5 505 494.7C498.1 492.9 496.7 492.1 491.7 488C486.7 483.9 479.3 476.7 475 470C470.7 463.3 467.7 454.2 466 448C464.3 441.8 464.6 436.8 465 433C465.4 429.2 466.3 428 468.5 425C470.7 422 473.4 418 478.4 415C483.4 412 491.5 408.7 498.4 407C505.3 405.3 513.1 405.3 520 405Z"/>
<path d="M513 732.3C510.2 734.8 503.5 733.6 498.8 733C494.1 732.4 488.7 730.3 484.6 728.7C480.5 727.1 478.9 726.7 474 723.4C469.1 720.1 461.5 713.7 455 709C448.5 704.3 441.2 699.1 434.9 695C428.6 690.9 423.5 687.9 417 684.4C410.5 680.9 402.9 676.5 395.8 673.7C388.7 670.9 381 668.6 374.5 667.7C368 666.8 361.6 667.1 356.8 668.4C352.1 669.7 348.4 671.4 346 675.5C343.6 679.6 343.5 686.5 342.6 693C341.7 699.5 342.3 707.4 340.8 714.5C339.3 721.6 336.7 729.3 333.7 735.8C330.7 742.3 326.3 747.7 323 753.6C319.7 759.5 316.4 764.5 314 771C311.6 777.5 310.2 784.9 308.9 792.6C307.6 800.4 306.7 808.6 306.4 817.5C306.1 826.4 306.4 836.3 307 845.9C307.6 855.5 308.9 865.5 310 875C311.1 884.5 312.5 894.4 313.5 902.6C314.5 910.8 314.7 916.3 316 924C317.3 931.7 319.2 940.5 321.3 948.8C323.4 957.1 325.7 965.3 328.4 973.6C331.1 981.9 334.1 990.3 337.3 998.5C340.6 1006.7 344.1 1015.9 347.9 1023C351.7 1030.1 355.6 1035.7 360.3 1041C365 1046.3 371.6 1051.5 376.3 1055C381 1058.5 383.4 1059 388.7 1062C394 1065 401.5 1069.7 408 1073C414.5 1076.3 421 1079 427.8 1082C434.6 1085 441.3 1088.8 449 1090.8C456.7 1092.8 465.7 1094.3 474 1094C482.3 1093.7 490.5 1091.3 498.8 1089C507.1 1086.7 515.9 1082.7 523.6 1080C531.3 1077.3 539.6 1074.8 544.9 1073C550.2 1071.2 552.5 1071.9 555.5 1069.5C558.5 1067.1 559.6 1063.5 562.6 1058.8C565.6 1054 569.1 1047 573.3 1041C577.4 1035 582.2 1028.3 587.5 1023C592.8 1017.7 599.1 1013.7 605 1009C610.9 1004.3 617.9 999.4 623 995C628.1 990.6 633.1 986.7 635.4 982.5C637.7 978.3 637.9 975.1 637 970C636.1 964.9 632.9 957.9 630 952C627.1 946.1 622.9 940.5 619.4 934.6C615.9 928.7 612.4 921.6 608.8 916.8C605.2 912 601.5 909.3 598 906C594.5 902.7 592.2 902.2 587.5 897C582.8 891.8 575.6 882.3 570 875C564.4 867.7 557.4 860.2 553.8 853C550.2 845.8 550.5 838.9 548.4 831.7C546.3 824.5 544 817.1 541 810C538 802.9 533.9 795.5 530.7 789C527.5 782.5 524.1 776.3 521.8 771C519.5 765.7 517.3 761.1 517 757C516.7 752.9 517.7 748.8 520 746.5C522.3 744.2 524.8 743.9 530.7 743C536.6 742.1 546.6 741.6 555.5 741C564.4 740.4 573.4 740 584 739.4C594.6 738.8 608.8 738.2 619.4 737.6C630 737 640.1 737 647.8 735.8C655.5 734.6 660.6 733.1 665.6 730.5C670.6 727.9 674.8 725.1 678 720C681.2 714.9 683.8 707.4 685 700C686.2 692.6 685.6 683.2 685 675.5C684.4 667.8 683 659.9 681.5 654C680 648.1 678 644.8 676 640C674 635.2 672.1 630.5 669.4 625C666.6 619.5 662.3 612.4 659.5 607C656.7 601.6 656.1 596.5 652.8 592.7C649.5 589 644.5 585.6 639.5 584.5C634.5 583.4 628.6 584.1 623 586C617.4 587.9 611.5 591.3 606 596C600.5 600.7 595.2 607.9 589.7 614C584.2 620.1 577.5 627.1 573 632.6C568.5 638.1 566.7 641.6 562.6 647C558.5 652.4 553.2 658.9 548.4 664.8C543.6 670.7 538.4 676.7 534 682.6C529.6 688.5 524.8 694.1 521.8 700C518.8 705.9 517.3 712.6 515.8 718C514.3 723.4 515.8 729.8 513 732.3Z"/>
<path d="M417 774C419.3 774.4 426.2 774.7 431 776.6C435.8 778.5 441 781.6 445.5 785.5C450 789.4 454.4 794.4 458 799.7C461.6 805 464.5 811 466.8 817.5C469.1 824 470.5 831.7 472 838.8C473.5 845.9 474.2 853 475.7 860C477.2 867 478.9 874.5 481 881C483.1 887.5 485.7 893 488 899C490.3 905 493.5 910.9 495 916.8C496.5 922.7 497.6 929.3 497 934.6C496.4 939.9 494.4 944.7 491.7 948.8C489 952.9 484.9 957.2 481 959.4C477.1 961.6 472.4 962.6 468.6 962C464.8 961.4 461.3 959.3 458 955.9C454.7 952.5 451.7 947 449 941.7C446.3 936.4 445 930.5 442 924C439 917.5 435.2 909.8 431 902.6C426.8 895.4 421.7 888.1 417 881C412.3 873.9 407.2 866.5 403 860C398.8 853.5 395 847.3 392 842C389 836.7 386.2 831.8 385 828C383.8 824.2 384.6 820.5 384.5 819"/>
</g>
<use href="#fL" clip-path="url(#eL)"/>
</g></g>
<g clip-path="url(#rR)"><g clip-path="url(#dR)">
<g id="fR">
<rect x="1000" y="0" width="841" height="1000" fill="#d69462"/>
<path fill="#d7b87a" d="M1115 300C1115.4 301.9 1116.6 307.7 1117.4 311.7C1118.2 315.7 1118.8 319.1 1120 324C1121.2 328.9 1123 335.3 1124.4 341C1125.8 346.7 1127 353.5 1128.6 358C1130.2 362.5 1133.8 361.7 1134 368C1134.2 374.3 1131.8 386.7 1130 396C1128.2 405.3 1124.7 414.7 1123 424C1121.3 433.3 1120 443.5 1120 451.8C1120 460.1 1121.6 466.5 1123 474C1124.4 481.5 1127.2 488.7 1128.6 496.6C1130 504.6 1131 513.3 1131.4 521.7C1131.8 530.1 1131.5 539 1130.8 546.9C1130.1 554.8 1129.2 563.5 1127 569C1124.8 574.5 1122.3 577.2 1117.4 580C1112.5 582.8 1104.4 584.8 1097.8 586C1091.2 587.2 1085 586.9 1078 587.4C1071 587.9 1062.5 589 1056 588.8C1049.5 588.6 1043.7 586.8 1039 586C1034.3 585.2 1032.2 584.3 1028 583.8C1023.8 583.3 1018.7 583.1 1014 583C1009.3 582.9 1002.3 583 1000 583L1000 300Z"/>
<path fill="#d7b87a" d="M1031.7 995C1031.7 994.1 1029.9 992.6 1031.7 989.7C1033.5 986.8 1038.6 983 1042.6 977.8C1046.6 972.5 1051.1 963.3 1055.6 958.2C1060.1 953.1 1064.6 950.1 1069.7 947.4C1074.8 944.7 1080.6 943.5 1086 941.9C1091.4 940.3 1097.8 939 1102.3 937.6C1106.8 936.2 1109.6 934.5 1113.2 933.2C1116.8 931.9 1120.7 930.4 1124 930C1127.3 929.6 1130.1 929.5 1132.8 931C1135.5 932.5 1138.5 936 1140.4 938.7C1142.3 941.4 1143.9 943.4 1144.2 947.4C1144.5 951.4 1143.7 958.3 1142.5 962.6C1141.3 966.9 1138.2 968.9 1137 973.4C1135.8 977.9 1135.3 986.1 1135 989.7C1134.7 993.3 1135 994.1 1135 995Z"/>
<path fill="#d7b87a" d="M1746 560C1747 562 1749.2 567.7 1752 572C1754.8 576.3 1758.8 581.3 1763 586C1767.2 590.7 1772.3 595.3 1777 600C1781.7 604.7 1787.2 610.3 1791 614C1794.8 617.7 1799.2 620 1800 622C1800.8 624 1799 627.3 1796 626C1793 624.7 1786.7 618.3 1782 614C1777.3 609.7 1772.3 604.7 1768 600C1763.7 595.3 1759.5 590.7 1756 586C1752.5 581.3 1748.5 574.3 1747 572Z"/>
<path fill="#d7b87a" d="M1310 995C1310.5 993.3 1311.3 987.7 1313 985C1314.7 982.3 1317.5 980.2 1320 979C1322.5 977.8 1325.5 977.2 1328 978C1330.5 978.8 1333.3 981.2 1335 984C1336.7 986.8 1337.5 993.2 1338 995Z"/>
<path fill="#c8d4e2" d="M1058 318C1058.8 320.2 1061 327.7 1063 331C1065 334.3 1068.2 335.7 1070 338C1071.8 340.3 1073.1 341.9 1074 345C1074.9 348.1 1074.8 351.6 1075.5 356.8C1076.2 362 1076.6 369.5 1078 376C1079.4 382.5 1081.6 389.9 1083.9 396C1086.2 402.1 1089.9 407.1 1092 412.7C1094.1 418.3 1095.5 423 1096.5 429.5C1097.5 436 1097.6 444.4 1097.8 451.8C1098 459.2 1098 467 1097.8 474C1097.6 481 1097.9 489.1 1096.5 493.8C1095.1 498.5 1092.1 500.9 1089.5 502C1086.9 503.1 1084.2 502.5 1081 500.7C1077.8 498.9 1074.2 494.5 1070 491C1065.8 487.5 1060.7 483.1 1056 479.8C1051.3 476.5 1046.7 473.5 1042 471.4C1037.3 469.3 1032.7 467.8 1028 467C1023.3 466.2 1018.7 466.6 1014 466.4C1009.3 466.2 1002.3 466.1 1000 466L1000 318Z"/>
<path fill="#c8d4e2" d="M1057 995C1057 994.1 1055.8 991.6 1057 989.5C1058.2 987.4 1060.5 984.3 1064 982.5C1067.5 980.7 1073.3 979 1078 978.8C1082.7 978.5 1088 979.2 1092 981C1096 982.8 1100.3 987.2 1102 989.5C1103.7 991.8 1102 994.1 1102 995Z"/>
<path fill="#a0bcd2" d="M1000 355C1002.3 355 1008.9 354.5 1014 355C1019.1 355.5 1025.6 355.8 1030.7 358C1035.8 360.2 1041.2 363.6 1044.7 368C1048.2 372.4 1050.8 379.1 1051.7 384.7C1052.6 390.3 1051.6 396.4 1050 401.5C1048.4 406.6 1045.7 411.8 1042 415.5C1038.3 419.2 1032.7 422 1028 423.9C1023.3 425.8 1018.7 426.2 1014 426.7C1009.3 427.2 1002.3 426.9 1000 427Z"/>
<path fill="#d46838" d="M1128 298C1128.6 300 1129.9 305 1131.4 309.8C1132.9 314.6 1135.1 321.3 1137 327C1138.9 332.7 1140.8 339.1 1142.6 343.9C1144.4 348.7 1146.1 353 1148 356C1149.9 359 1152 358.7 1153.8 362C1155.6 365.3 1157.8 370.3 1159 376C1160.2 381.7 1161 389.9 1160.8 396C1160.6 402.1 1159.6 407.6 1158 412.7C1156.4 417.8 1153.1 422 1151 426.7C1148.9 431.4 1146.1 436 1145.4 440.6C1144.7 445.2 1145.9 450.2 1146.8 454.6C1147.7 459 1148.8 461.1 1151 467C1153.2 472.9 1156.8 479.5 1160 490C1163.2 500.5 1167 517.5 1170 530C1173 542.5 1177.2 555.8 1178 565C1178.8 574.2 1177 579.7 1175 585C1173 590.3 1169.1 592.7 1166 597C1162.9 601.3 1159.5 605.8 1156.5 611C1153.5 616.2 1150.1 621.9 1148 628C1145.9 634.1 1144.2 640.8 1144 647.5C1143.8 654.2 1145.4 662.6 1146.8 668C1148.2 673.4 1150.5 676.3 1152.4 680C1154.3 683.7 1156.5 684.5 1158 690C1159.5 695.5 1161.1 705.7 1161.6 712.7C1162.1 719.7 1161.9 726.5 1160.8 732C1159.7 737.5 1157.6 742.5 1155 746C1152.4 749.5 1148.9 751.6 1145.4 753C1141.9 754.4 1137.5 755.3 1134 754.6C1130.5 753.9 1127.2 752.3 1124.4 749C1121.6 745.7 1119.3 739.7 1117.4 735C1115.5 730.3 1115.1 725.2 1113 721C1110.9 716.8 1107.8 712.8 1104.8 710C1101.8 707.2 1097.8 704 1095 704C1092.2 704 1089.4 707.2 1088 710C1086.6 712.8 1086.2 716.4 1086.7 721C1087.2 725.6 1088.9 732.7 1090.9 737.8C1093 742.9 1096.2 747.6 1099 751.8C1101.8 756 1105.9 758.8 1107.6 763C1109.3 767.2 1109.3 773.3 1109 777C1108.7 780.7 1108 780.3 1106 785C1104 789.7 1099.3 797.5 1097 805C1094.7 812.5 1092.3 824 1092 830C1091.7 836 1092.3 836.3 1095 841C1097.7 845.7 1102.9 853.5 1108 858C1113.1 862.5 1120.5 865.5 1125.8 867.8C1131.1 870.1 1134.3 871.3 1139.8 872C1145.3 872.7 1152.5 872.2 1159 872C1165.5 871.8 1172.9 871.8 1179 870.6C1185.1 869.4 1190.1 867.3 1195.7 865C1201.3 862.7 1207.8 859.5 1212.5 856.7C1217.2 853.9 1219 853.3 1223.6 848C1228.2 842.7 1235.6 831.7 1240 825C1244.4 818.3 1247.4 812.4 1250 807.7C1252.6 803 1253.2 799.4 1255.8 796.6C1258.4 793.8 1262.1 791.9 1265.6 791C1269.1 790.1 1273.1 790.1 1276.8 791C1280.5 791.9 1284.8 793.4 1288 796.6C1291.2 799.9 1293.2 805.4 1296 810.5C1298.8 815.6 1302.1 821.4 1304.7 827C1307.3 832.6 1310.1 838.4 1311.7 844C1313.3 849.6 1314.3 855.3 1314.5 860.9C1314.7 866.5 1313.9 872 1313 877.6C1312.1 883.2 1309.9 889.3 1309 894.4C1308.1 899.5 1306.8 904.2 1307.5 908.4C1308.2 912.6 1310.2 916.8 1313 919.6C1315.8 922.4 1319.8 923.1 1324 925C1328.2 926.9 1333.8 928.4 1338 930.7C1342.2 933 1346.2 935.8 1349.5 939C1352.8 942.2 1355.5 946.2 1357.8 950C1360.1 953.8 1362 957.3 1363.4 961.5C1364.8 965.7 1365.6 972.8 1366 975L1400 985L1600 985L1608 928C1608.7 928 1610.3 927.9 1612.4 927.9C1614.5 927.9 1618.2 928.4 1620.8 927.9C1623.4 927.4 1626.2 927.3 1627.8 925C1629.4 922.7 1629.4 917.7 1630.6 914C1631.8 910.3 1632.7 905.8 1634.8 902.7C1636.9 899.7 1638.8 898.2 1643 895.7C1647.2 893.2 1653.7 890.6 1660 888C1666.3 885.4 1675.3 881.8 1680.9 880C1686.5 878.2 1689.5 878.3 1693.5 877C1697.5 875.7 1702 874.7 1704.6 872C1707.1 869.3 1707.9 866 1708.8 860.8C1709.7 855.6 1709.5 847.5 1710 841C1710.5 834.5 1710.6 827.7 1711.6 821.7C1712.6 815.7 1713.7 809.5 1715.8 805C1717.9 800.5 1720.7 797.2 1724 795C1727.3 792.8 1730.7 792 1735.4 792C1740.1 792 1746.4 793.8 1752 795C1757.6 796.2 1763.5 798.7 1769 799C1774.5 799.3 1779.9 798.3 1785 797C1790.1 795.7 1795.4 792.5 1799.7 791C1804 789.5 1807.6 789.9 1810.8 788C1814 786.1 1817.6 783.4 1819 779.7C1820.4 776 1820.4 770.4 1819 765.8C1817.6 761.1 1814.5 756 1810.8 751.8C1807.1 747.6 1802 744.3 1796.9 740.6C1791.8 736.9 1785.2 731.7 1780 729.4C1774.8 727.1 1771 725.2 1766 726.6C1761 728 1754.7 735.1 1750 738C1745.3 740.9 1742.3 743.3 1738 744C1733.7 744.7 1728.2 743.5 1724 742C1719.8 740.5 1715.8 738.5 1713 735C1710.2 731.5 1708.4 727.5 1707.4 721C1706.4 714.5 1706.9 704.1 1706.9 696C1706.9 687.9 1708.6 680.3 1707.4 672.6C1706.2 664.9 1703.1 657.5 1700 650C1696.9 642.5 1690.8 633.4 1689 627.9C1687.2 622.4 1688.2 621.4 1689 616.7C1689.8 612.1 1691.6 605.1 1693.5 600C1695.4 594.9 1698.6 591.2 1700.4 586C1702.2 580.8 1703.4 575.5 1704.6 569C1705.8 562.5 1706 554.2 1707.4 546.8C1708.8 539.4 1710.7 532 1713 524.5C1715.3 517 1718.4 509.5 1721.4 502C1724.4 494.5 1728.2 486.2 1731 479.7C1733.8 473.2 1735.2 469.6 1738 463C1740.8 456.4 1744.2 447.9 1748 440C1751.8 432.1 1753.5 422.2 1760.5 415.5C1767.5 408.8 1779.8 404.6 1790 400C1800.2 395.4 1814.5 390.7 1822 388C1829.5 385.3 1832.8 384.7 1835 384L1835 10L1128 10Z"/>
<path fill="#d46838" d="M1000 664C1002.3 664.2 1009.3 664.3 1014 665C1018.7 665.7 1023.3 668.2 1028 668C1032.7 667.8 1037.3 665.6 1042 663.8C1046.7 662 1050.9 659.1 1056 657C1061.1 654.9 1067.6 652.2 1072.7 651C1077.8 649.8 1083.7 648.8 1086.7 649.8C1089.7 650.8 1090.1 654 1090.9 656.8C1091.7 659.6 1092.2 662.7 1091.7 666.6C1091.2 670.5 1090.3 676.6 1088 680C1085.7 683.4 1081.7 685.3 1078 687C1074.3 688.7 1070.4 688.8 1065.7 690C1061 691.2 1055.4 693 1050 694.5C1044.6 696 1039.5 697.3 1033.5 698.7C1027.5 700.1 1019.6 702 1014 703C1008.4 704 1002.3 704.7 1000 705Z"/>
<path fill="#d46838" d="M1000 917C1002.3 917 1010.3 916.2 1014 917C1017.7 917.8 1019.9 919.7 1022 922C1024.1 924.3 1026.6 927.6 1026.6 930.7C1026.6 933.8 1024.1 938 1022 940.5C1019.9 943 1017.7 945.1 1014 946C1010.3 946.9 1002.3 946 1000 946Z"/>
<path fill="#d46838" d="M1223.6 1000C1223.6 998.2 1223.4 994 1223.6 989.5C1223.8 985 1223.6 977.8 1225 972.7C1226.4 967.6 1229 962.9 1232 958.7C1235 954.5 1239.7 949.8 1243 947.5C1246.3 945.2 1247.9 944.6 1251.6 944.7C1255.3 944.8 1260.8 945.2 1265 948C1269.2 950.8 1274.4 956.9 1276.8 961.5C1279.2 966.1 1279.2 970.8 1279.6 975.5C1280 980.2 1279.1 985.4 1279 989.5C1278.9 993.6 1279 998.2 1279 1000Z"/>
<path fill="#d46838" d="M1662.7 1000C1662.7 998.2 1663.4 993.5 1662.7 989.4C1662 985.3 1658.7 979.6 1658.5 975.4C1658.3 971.2 1659.7 967.1 1661.3 964C1662.9 960.9 1665.5 958.2 1668.3 957C1671.1 955.8 1674.7 955.3 1678 957C1681.3 958.7 1684.9 963.9 1687.9 967C1690.9 970.1 1693.8 973.3 1696 975.4C1698.2 977.5 1699 978 1701.3 979.6C1703.6 981.2 1708.5 984.1 1710 985L1710 1000Z"/>
<path fill="#d69462" d="M1408.4 925C1408.4 923.3 1408.2 919.7 1408.4 915C1408.6 910.3 1408.4 902.8 1409.8 897C1411.2 891.2 1413.3 884.9 1416.8 880C1420.3 875.1 1426 871.5 1430.7 867.8C1435.4 864.1 1440.5 862.5 1444.7 858C1448.9 853.5 1452.7 847.5 1455.9 841C1459.1 834.5 1461.2 826.4 1464 819C1466.8 811.6 1470.1 804 1472.7 796.5C1475.3 789 1477.7 780.1 1479.7 774C1481.8 767.9 1483 763 1485 760C1487 757 1489.4 756.4 1492 756C1494.6 755.6 1498.3 755.3 1500.6 757.4C1502.9 759.5 1504.4 764 1506 768.6C1507.6 773.2 1508.5 779.4 1510.4 785C1512.3 790.6 1515.3 796.3 1517.4 802C1519.5 807.7 1521.8 813.4 1523 819C1524.2 824.6 1524.9 830 1524.4 835.6C1523.9 841.2 1522.1 847.3 1520 852.4C1517.9 857.5 1514.8 862.8 1511.8 866.4C1508.8 870 1504.8 870.9 1502 874C1499.2 877.1 1496.2 883.2 1495 885Z"/>
<path fill="#d69462" d="M1700 225C1698.9 227.1 1695.5 233.2 1693.5 237.6C1691.5 242 1689.4 246.5 1688 251.6C1686.6 256.7 1685.2 262.4 1685 268C1684.8 273.6 1685.3 280.3 1686.5 285C1687.7 289.7 1689 292.7 1692 296C1695 299.3 1699.7 302.5 1704.6 304.6C1709.5 306.7 1715.3 307.9 1721.4 308.8C1727.5 309.7 1734.7 309.9 1741 310C1747.3 310.1 1753.3 309.9 1759 309.7C1764.7 309.5 1772.3 309.1 1775 309L1775 225Z"/>
<path fill="#ec5430" d="M1146.8 298C1146.8 300.2 1145.9 306.7 1146.8 311C1147.7 315.3 1150.3 319 1152.4 324C1154.5 329 1156.9 336.7 1159.4 341C1162 345.3 1164.9 347.4 1167.7 350C1170.5 352.6 1173.7 352.5 1176 356.8C1178.3 361.1 1180.5 369.5 1181.7 376C1182.9 382.5 1183 389 1183 396C1183 403 1181.5 410.6 1181.7 418C1182 425.4 1182.6 433.1 1184.5 440.6C1186.4 448.1 1190.2 455.6 1193 463C1195.8 470.4 1198.7 477.6 1201 485C1203.3 492.4 1205.5 500.2 1206.9 507.7C1208.4 515.2 1207.9 523 1209.7 530C1211.5 537 1215.2 542.7 1218 549.7C1220.8 556.7 1224.8 565 1226.4 572C1228 579 1228.3 585.6 1227.8 591.6C1227.3 597.6 1226.1 603.3 1223.6 608C1221 612.7 1216.3 615.8 1212.5 619.6C1208.7 623.4 1203.3 627 1201 630.7C1198.7 634.4 1197.5 638.3 1198.5 642C1199.5 645.7 1202.7 650.2 1206.9 653C1211.1 655.8 1218 657.3 1223.6 658.7C1229.2 660.1 1234.8 660.1 1240.4 661.5C1246 662.9 1251.4 664.7 1257 667C1262.6 669.3 1268.4 673.4 1274 675.5C1279.6 677.6 1285.1 679.3 1290.7 679.7C1296.3 680.1 1302.4 679.6 1307.5 678C1312.6 676.4 1316.8 673.2 1321.5 670C1326.2 666.8 1330.8 662 1335.5 658.7C1340.2 655.4 1344.8 652.1 1349.5 650C1354.2 647.9 1358.3 646.4 1363.4 646C1368.5 645.6 1374.4 646.3 1380 647.5C1385.6 648.7 1391.4 650.7 1397 653C1402.6 655.3 1407.7 657.3 1413.8 661.5C1419.9 665.7 1427 674.3 1433.5 678C1440 681.7 1446.5 683.1 1453 683.8C1459.5 684.5 1466.6 684 1472.7 682.4C1478.8 680.8 1484.5 677.5 1489.4 674C1494.3 670.5 1499 666.8 1502 661.4C1505 656 1506.7 648.8 1507.6 641.8C1508.5 634.8 1508.1 627.9 1507.6 619.5C1507.1 611.1 1506.2 600.8 1504.8 591.5C1503.4 582.2 1500.6 572.9 1499.2 563.6C1497.8 554.3 1496.4 544.5 1496.4 535.6C1496.4 526.8 1497.1 517 1499.2 510.5C1501.3 504 1505 500.2 1509 496.5C1513 492.8 1517.9 490.3 1523 488C1528.1 485.7 1534.8 484.8 1539.7 482.5C1544.6 480.2 1550 477.2 1552.3 474C1554.6 470.8 1553.2 467.7 1553.7 463C1554.2 458.3 1553.8 453 1555 446C1556.2 439 1559 429.3 1560.7 421C1562.4 412.7 1563.8 404.8 1565 396C1566.2 387.2 1567 373.9 1567.7 368C1568.4 362.1 1568.3 364.5 1569 360.5C1569.7 356.5 1570.3 348.9 1572 343.8C1573.7 338.7 1575.9 334.9 1578.9 329.8C1581.9 324.7 1586.8 318.1 1590 313C1593.2 307.9 1596.1 303.7 1598.4 299C1600.7 294.3 1602.4 290.2 1604 285C1605.6 279.8 1607.5 273.6 1608 268C1608.5 262.4 1608 257.5 1606.8 251.5C1605.6 245.5 1602.6 238.6 1601 232C1599.4 225.4 1597 218.5 1597 212C1597 205.5 1598.9 199.3 1601 192.8C1603.1 186.3 1606.3 179.1 1609.6 173C1612.9 166.9 1617.3 162.1 1620.8 156.5C1624.3 150.9 1628.5 146.3 1630.6 139.7C1632.7 133.1 1633.2 125 1633.4 117C1633.6 109 1633.2 100.8 1632 92C1630.8 83.2 1628.5 72.8 1626.4 64C1624.3 55.2 1621 45.8 1619.4 39C1617.8 32.2 1617.2 27.8 1616.6 23C1616 18.2 1616.1 12.2 1616 10L1146 10Z"/>
<path fill="#ec5430" d="M1599.8 355C1600.3 351.5 1601 344.7 1604 341C1607 337.3 1612.4 333.5 1618 332.6C1623.6 331.7 1631.1 333.5 1637.6 335.4C1644.1 337.3 1650.9 340.5 1657 343.8C1663.1 347.1 1669.3 351.5 1674 355C1678.7 358.5 1681.8 361.5 1685 365C1688.2 368.5 1691.4 370.8 1693.5 376C1695.6 381.2 1697.2 390.2 1697.6 396C1698 401.8 1697.6 407.3 1696 411C1694.4 414.7 1691.6 417 1687.9 418C1684.2 419 1679.2 418.2 1674 416.9C1668.8 415.5 1663.1 412.9 1657 409.9C1650.9 406.9 1643.6 402.4 1637.6 398.7C1631.6 395 1625.9 391.7 1620.8 387.5C1615.7 383.3 1610.1 377.8 1606.8 373.5C1603.5 369.2 1602.2 365.1 1601 362C1599.8 358.9 1599.3 358.5 1599.8 355Z"/>
<path fill="#ec5430" d="M1595.6 583C1591.4 584.3 1586.3 588.4 1581.7 594C1577.1 599.6 1571.4 608.7 1567.7 616.7C1564 624.7 1562.1 633.4 1559.3 641.8C1556.5 650.2 1552.6 659.8 1551 667C1549.4 674.2 1548.6 679.8 1549.5 685C1550.4 690.2 1552.6 694.3 1556.5 698C1560.4 701.7 1567 705 1573 707C1579 709 1587.6 707.7 1592.8 710C1598 712.3 1600.7 716.4 1604 721C1607.3 725.6 1610.1 731.7 1612.4 737.8C1614.7 743.9 1616.8 750.4 1618 757.4C1619.2 764.4 1618.5 773.7 1619.4 779.7C1620.3 785.8 1621 790.4 1623.6 793.7C1626.2 797 1630.6 799.1 1634.8 799.3C1639 799.5 1644.5 797.3 1648.7 795C1652.9 792.7 1657.5 790.2 1660 785.3C1662.5 780.4 1663.1 772.8 1664 765.8C1664.9 758.8 1665.3 750.9 1665.5 743.4C1665.7 735.9 1665.5 728.5 1665 721C1664.5 713.5 1664 705.7 1662.7 698.7C1661.4 691.7 1659.3 685 1657 679C1654.7 673 1651 666.3 1648.7 662.4C1646.4 658.5 1645.8 659.7 1643 655.8C1640.2 651.9 1635.2 645 1632 639C1628.8 633 1625.9 626 1623.6 619.5C1621.3 613 1620.8 605.6 1618 600C1615.2 594.4 1610.5 588.8 1606.8 586C1603.1 583.2 1599.8 581.7 1595.6 583Z"/>
<ellipse cx="1494" cy="102" rx="33.6" ry="34" fill="#d46838"/>
<path fill="#b4380e" d="M1158 305C1158.9 307.1 1161 313.2 1163.5 317.3C1166 321.4 1169.8 325.5 1173.3 329.9C1176.8 334.3 1181.4 341.1 1184.5 343.9C1187.6 346.7 1189.2 343.6 1192 346.5C1194.8 349.4 1199 355.6 1201 361.6C1203 367.6 1203.7 375.1 1204 382.7C1204.3 390.3 1202.7 398.9 1202.7 407C1202.7 415.1 1203 423 1204 431C1205 439 1206.7 446.9 1208.7 455C1210.7 463.1 1212.8 471.3 1216 479.4C1219.2 487.5 1223.4 496.1 1228 503.6C1232.6 511.2 1237.8 517.1 1243.4 524.7C1249 532.3 1255.5 542 1261.6 549C1267.6 556 1273.7 561.5 1279.7 567C1285.7 572.5 1292.2 578.2 1297.8 582C1303.3 585.8 1307.6 587.9 1313 589.7C1318.4 591.5 1324 592.3 1330 593C1336 593.7 1342.8 593.7 1349 594C1355.2 594.3 1360.9 593.5 1367 594.8C1373.1 596.1 1378.8 599.4 1385.4 601.8C1392 604.2 1399.5 606.2 1406.6 609C1413.6 611.8 1421.7 615.3 1427.7 618.4C1433.7 621.5 1438.8 624.4 1442.8 627.4C1446.8 630.4 1449 634.8 1452 636.5C1455 638.2 1458.2 638.4 1461 637.4C1463.8 636.4 1466.2 634.7 1468.5 630.5C1470.8 626.3 1472.8 618.6 1474.6 612C1476.3 605.4 1478.3 598 1479 591C1479.7 584 1480 576.5 1479 570C1478 563.5 1475.5 557.5 1473 552C1470.5 546.5 1466.8 542.3 1464 536.8C1461.2 531.2 1458.7 524.5 1456.4 518.7C1454.1 512.9 1451.1 506.8 1450.4 502C1449.7 497.2 1450.1 494.2 1452 490C1453.9 485.8 1458 480.4 1462 477C1466 473.6 1470.7 472.4 1476 469.7C1481.3 467 1488 463.9 1494 461C1500 458.1 1506.7 456 1512.3 452C1517.9 448 1523.4 442.5 1527.4 437C1531.4 431.5 1534.2 425 1536.5 419C1538.8 413 1540 407.5 1541 401C1542 394.5 1542.8 386.8 1542.5 380C1542.2 373.2 1539.8 365.1 1539 360C1538.2 354.9 1538.4 354.8 1538 349.5C1537.6 344.2 1536.2 335.6 1536.5 328C1536.8 320.4 1538 311 1539.5 304C1541 297 1544.4 291 1545.6 286C1546.8 281 1546.4 278.8 1546.7 274C1547 269.2 1548 262.7 1547.6 257C1547.1 251.3 1545.8 244.7 1544 240C1542.2 235.3 1540 232 1537 229C1534 226 1530 223.7 1525.8 222C1521.6 220.3 1516.9 219 1511.8 219C1506.7 219 1500.1 222 1495 222C1489.9 222 1485.2 220.8 1481 219C1476.8 217.2 1472.5 214.5 1469.9 211C1467.4 207.5 1465.9 202.4 1465.7 198C1465.5 193.6 1467.8 189.6 1468.5 184.5C1469.2 179.4 1470.8 173.3 1469.9 167.7C1469 162.1 1465.9 157.1 1462.9 151C1459.9 144.9 1455 137.5 1451.7 131C1448.4 124.5 1445.1 118.3 1443 111.8C1440.9 105.3 1439.4 98.5 1439 92C1438.6 85.5 1439.3 78.5 1440.5 72.7C1441.7 66.9 1443 60.8 1446 57C1449 53.2 1453.8 51.3 1458.7 49.7C1463.6 48.1 1469.5 47.8 1475.5 47.5C1481.5 47.2 1488.5 47.8 1495 48C1501.5 48.2 1508.5 48.7 1514.6 49C1520.7 49.3 1525.8 49.3 1531.4 50C1537 50.7 1543.3 53.2 1548 53C1552.7 52.8 1556.7 51.8 1559.3 49C1561.9 46.2 1563.3 40.3 1563.5 36C1563.7 31.7 1561.3 27.3 1560.7 23C1560.1 18.7 1560.1 12.2 1560 10L1158 10Z"/>
<path fill="#9a0000" d="M1365 80C1366.6 81.1 1370.3 83.7 1374.6 86.7C1378.9 89.7 1385.9 94.3 1391 98C1396.1 101.7 1400.7 105.3 1405 109C1409.3 112.7 1412 115.3 1416.8 120C1421.5 124.7 1428.8 130.9 1433.5 137C1438.2 143.1 1442.6 149.5 1444.7 156.5C1446.8 163.5 1446.5 171.6 1446 179C1445.5 186.4 1442.2 193.6 1442 201C1441.8 208.4 1442.4 217.1 1444.7 223.6C1447 230.1 1451.3 235.3 1456 240C1460.7 244.7 1467.6 247.7 1472.7 251.5C1477.8 255.3 1482.9 258 1486.6 262.7C1490.3 267.4 1493.8 275.6 1495 279.5C1496.2 283.4 1493.9 281.9 1494 286C1494.1 290.1 1494.7 298 1495.7 304C1496.7 310 1497.8 316 1500 322C1502.2 328 1505.5 333.9 1509 340C1512.5 346.1 1518.2 351.9 1521 358.5C1523.8 365.1 1525.7 372.6 1526 379.7C1526.3 386.8 1525.3 394.9 1523 401C1520.7 407.1 1516.8 411.5 1512 416C1507.2 420.5 1500.5 425.2 1494 428C1487.5 430.8 1480 433.6 1473 432.6C1466 431.6 1459 425.1 1452 422C1445 418.9 1437.3 413.5 1430.7 414C1424.1 414.5 1417.4 420.2 1412.6 425C1407.8 429.8 1403.3 436.5 1402 443C1400.7 449.5 1402.2 457 1405 464C1407.8 471 1414.7 476.9 1418.7 485C1422.7 493.1 1426 504 1429 512.6C1432 521.2 1434.8 529.2 1436.8 536.8C1438.8 544.4 1441 552.5 1441 558C1441 563.5 1440.5 567.5 1436.8 570C1433.1 572.5 1426.2 574 1418.7 573C1411.2 572 1401.1 566 1391.5 564C1381.9 562 1371.1 562 1361 561C1350.9 560 1340 560.5 1331 558C1322 555.5 1313 550 1307 546C1301 542 1299.8 538.3 1294.8 533.8C1289.8 529.2 1283.2 523.7 1276.7 518.7C1270.2 513.7 1262.1 509.2 1255.5 503.6C1248.9 498 1242.1 492.1 1237 485C1231.9 477.9 1227.7 470 1225 461C1222.3 452 1221.3 440 1220.8 431C1220.3 422 1220.8 415.1 1222 407C1223.2 398.9 1226.2 390.8 1228 382.7C1229.8 374.6 1233 365.6 1233 358.5C1233 351.4 1230.8 344.6 1228 340C1225.2 335.4 1220.5 333.6 1216 331C1211.5 328.4 1205.3 326.2 1201 324.7C1196.7 323.2 1191.8 322.4 1190 322L1190 300L1220 250L1300 180L1340 100Z"/>
<path fill="#b4380e" d="M1253 307.5C1252.8 302.4 1253.2 294.1 1254.4 288C1255.6 281.9 1257.7 275.9 1260 271C1262.3 266.1 1265.1 260.9 1268.4 258.6C1271.7 256.3 1275.9 255.4 1279.6 257C1283.3 258.6 1287.5 263.7 1290.7 268.4C1293.9 273.1 1296.9 279.4 1299 285C1301.1 290.6 1303 296.4 1303.3 302C1303.5 307.6 1302.6 314.1 1300.5 318.7C1298.4 323.3 1294.7 327.3 1290.7 329.9C1286.8 332.4 1281.5 334 1276.8 334C1272.1 334 1266.3 332.4 1262.8 329.9C1259.3 327.3 1257.4 322.4 1255.8 318.7C1254.2 315 1253.2 312.6 1253 307.5Z"/>
</g>
</g>
<g class="t" stroke-width="1.6" stroke-linejoin="round"><path d="M1029.7 290.5L1025.7 295.4L1021.8 299.3L1023.8 303.3L1032.6 301.3L1037.5 300.3L1038.5 303.3L1033.6 308.2L1035.5 312.1L1027.7 314L1019.9 312.1L1022.8 309.1L1016 317.9L1023.8 318.9L1027.7 322.8L1023.8 326.7L1031.6 332.6L1039.4 339.5L1048.2 340.4L1049.2 332.6L1048.2 320.9L1043.3 316L1039.4 322.8L1036.5 314L1043.3 316M1053.1 334.6L1056.1 327.7L1060 326.7L1062.9 332.6M1051.2 357.1L1055.1 352.2L1062.9 350.2L1070.7 347.3M1076.6 344.3L1082.5 345.3L1081.5 348.3M1070.7 361L1064.9 367.8L1062.9 377.6L1063.9 386.4L1068.8 386.4M1078.6 361L1082.5 362L1081.5 367.8L1076.6 369.8L1086.4 369.8L1092.3 373.7L1090.3 379.6L1096.2 373.7L1104 369.8L1111.8 368.8L1117.7 373.7L1123.6 378.6L1127.5 385.4L1129.4 395.2L1127.5 405L1123.6 410.9L1119.7 418.7L1123.6 422.6L1131.4 421.6L1137.3 418.7L1141.2 424.6L1147 426.5L1151 420.7L1154.9 416.7M1123.6 410.9L1119.7 424.6L1115.7 434.4L1109.9 438.3L1109.9 446.1L1105 450L1104 457.8L1109.9 448L1119.7 440.2L1127.5 432.4L1131.4 424.6M1129.4 409.9L1135.3 408.9L1137.3 414.8L1131.4 416.7L1129.4 409.9M1123.6 424.6L1127.5 421.6L1128.5 427.5L1124.5 429.5L1123.6 424.6M1054.1 388.4L1059 395.2L1061 405L1064.9 414.8L1070.7 422.6L1078.6 424.6L1086.4 416.7L1089.3 410.9M1062.9 431.4L1070.7 426.5L1074.7 432.4L1076.6 441.2L1072.7 435.3L1070.7 428.5M1015 409.9L1025.7 405L1033.6 401.1L1041.4 399.1L1039.4 395.2L1044.3 395.2L1043.3 401.1L1053.1 395.2L1056.1 390.3M1036.5 379.6L1041.4 376.6L1039.4 380.5M1158.8 414.8L1166.6 413.8L1172.5 410.9L1174.4 418.7L1184.2 419.7L1190.1 414.8L1199.9 409.9L1209.7 408.9L1221.4 408.9L1229.2 405L1239 403M1201.8 395.2L1201.8 405L1197.9 401.1L1194 395.2L1196 389.4L1201.8 389.4L1209.7 387.4L1213.6 385.4L1219.4 383.5L1227.3 385.4L1224.3 393.3L1221.4 403L1225.3 408.9L1235.1 414.8L1241 418.7M1213.6 385.4L1221.4 405M1229.2 403L1237 395.2L1242.9 399.1L1239 407L1246.8 407L1258.6 410.9L1264.4 414.8M1260.5 393.3L1268.4 387.4L1276.2 385.4L1284 379.6L1295.7 375.7L1287.9 379.6L1280.1 385.4L1272.3 389.4L1260.5 393.3M1293.8 373.7L1291.8 363.9L1295.7 358L1291.8 352.2L1286 352.2L1284 344.3L1282 338.5L1286 334.6M1221.4 299.3L1221.4 307.2L1229.2 309.1L1235.1 301.3L1241 295.4L1229.2 291.5L1237 287.6L1244.9 283.7L1250.7 281.7L1256.6 289.6L1248.8 293.5L1244.9 299.3L1248.8 309.1L1241 313L1233.1 315L1225.3 313L1217.5 318.9L1223.4 322.8M1256.6 320.9L1260.5 317L1263.5 321.8L1259.5 324.8L1256.6 320.9M1266.4 318.9L1274.2 315L1282 317L1284 320.9L1276.2 326.7L1270.3 330.7L1267.4 334.6L1266.4 326.7L1266.4 318.9M1254.7 277.8L1262.5 273.9L1268.4 270M1266.4 279.8L1274.2 277.8L1276.2 272M1327.1 307.2L1331 301.3L1338.8 303.3L1342.7 299.3L1350.5 299.3L1346.6 307.2L1336.8 308.2L1327.1 307.2M1303.6 324.8L1307.5 315L1313.4 313L1316.3 322.8L1315.3 328.7L1309.4 326.7L1303.6 324.8M1239 341.4L1244.9 340.4L1246.8 343.4M1493.9 24L1486.1 31.8L1480.2 41.6L1476.3 49.4L1474.3 59.2L1478.3 63.1L1486.1 62.2L1492 57.3L1497.8 53.3M1474.3 59.2L1468.5 69L1462.6 74.9L1456.7 84.7L1450.9 94.4L1443 102.3L1439.1 108.1L1431.3 116L1427.4 125.7L1421.5 137.5L1417.6 149.2L1415.7 161L1411.7 172.7L1409.8 186.4L1410.8 200.1L1407.8 211.8L1405.9 227.5L1403.9 239.2L1411.7 249L1419.6 254.9L1421.5 257.8M1501.7 33.8L1505.7 41.6L1513.5 43.6L1521.3 42.6L1529.1 39.7L1527.2 45.5L1531.1 49.4L1527.2 55.3L1523.3 59.2L1523.3 67L1517.4 72.9L1509.6 76.8L1506.6 82.7L1508.6 88.6L1507.6 96.4L1501.7 100.3L1497.8 106.2L1505.7 108.1L1509.6 104.2L1515.4 108.1L1521.3 114L1525.2 121.8L1527.2 129.7L1525.2 135.5L1519.4 137.5L1517.4 143.4L1523.3 141.4L1527.2 137.5L1525.2 145.3L1521.3 149.2L1525.2 161M1527.2 137.5L1533 127.7L1540.9 125.7L1550.7 123.8L1556.5 119.9L1562.4 116L1570.2 115L1574.1 119.9L1578 120.8L1572.2 127.7L1570.2 135.5L1566.3 138.5L1572.2 141.4L1576.1 151.2L1580 161L1583.9 172.7L1587.8 178.6L1593.7 184.4L1597.6 192.3L1603.5 200.1L1607.4 209.9L1613.3 215.7L1619.1 217.7L1611.3 221.6L1603.5 225.5L1601.5 235.3L1603.5 245.1L1607.4 251L1611.3 262.7L1605.4 258.8L1599.6 258.8L1603.5 270.5L1607.4 278.4L1605.4 283M1556.5 254.9L1552.6 262.7L1556.5 270.5L1564.4 274.4L1572.2 278.4L1576.1 283M1552.6 262.7L1548.7 274.4L1548.7 283M1417.6 180.5L1423.5 182.5L1431.3 178.6L1435.2 184.4L1431.3 190.3L1427.4 186.4M1540.9 31.8L1546.7 29.9L1548.7 24M1610.3 33.8L1613.3 27.9L1615.2 26L1614.2 31.8L1610.3 33.8M1545.3 340L1550.9 354L1559.3 367.9L1567.7 387.5L1574.7 393.1L1584.5 384.7L1578.9 395.9L1576.1 412.7L1567.7 418.3L1560.7 423.8L1556.5 432.2L1550.9 432.2L1548.1 440.6L1552.3 449L1545.3 451.8L1542.5 463L1534.2 468.6L1536.9 476.9L1528.6 479.7L1520.2 490.9L1514.6 507.7L1516 530.1L1521.6 546.8L1523 572L1527.2 591.5L1528.6 613.9L1527.2 641.8L1539.7 639L1556.5 641.8L1562.1 625.1L1570.5 636.3L1577.5 625.1L1567.7 613.9L1576.1 605.5L1592.8 602.7L1606.8 608.3L1609.6 591.5L1601.2 577.6L1598.4 573.4L1606.8 574.8L1612.4 585.9L1623.6 597.1L1632 619.5L1640.4 636.3L1651.5 653L1662.7 664.2L1671.1 678.2L1679.5 694.9L1682.3 710M1539.7 619.5L1548.1 608.3L1552.3 619.5L1545.3 625.1L1539.7 619.5M1606.8 576.2L1623.6 583.2L1637.6 591.5L1651.5 602.7L1668.3 608.3L1679.5 613.9L1690.7 619.5L1701.8 627.9L1718.6 627.9L1707.4 630.7L1693.5 633.5M1615.2 340L1620.8 356.8L1623.6 379.1L1634.8 390.3L1645.9 404.3L1662.7 415.5L1679.5 421.1L1696.3 426.6L1713 429.4L1729.8 435L1743.8 440.6M1696.3 340L1704.6 351.2L1710.2 365.2L1718.6 376.3L1727 395.9L1738.2 409.9L1746.6 421.1L1754.9 432.2L1763.3 449L1766.1 463L1768.9 471.4M1775.9 482.5L1781.5 488.1M1785.7 499.3L1787.1 502.7M1795.5 520.3L1797.4 522.2M1805.3 538.4L1806.9 540.4M1809.4 546.8L1810.8 555.2M1813.6 580.4L1816.4 602.7L1813.6 591.5M1813.6 613.9L1816.4 622.3L1812.2 636.3M1810.8 661.4L1813.6 669.8L1819.2 683.8M1707.4 653L1715.8 664.2L1729.8 672.6L1743.8 669.8L1754.9 681L1743.8 675.4L1735.4 683.8L1732.6 689.4M1637.6 640L1651.5 656.8L1668.3 676.3L1679.5 695.9L1687.9 718.3L1696.3 743.4L1701.8 771.4L1706 796.5L1707.4 818.9L1704.6 841.2L1701.8 858L1690.7 872L1679.5 869.2L1676.7 880.4L1672.5 897.1L1669.7 916.7L1673.9 936.3L1679.5 947.4L1676.7 964.2L1668.3 978.2L1662.7 989.4M1690.7 640L1701.8 656.8L1710.2 673.5L1715.8 665.2L1729.8 676.3L1741 673.5L1752.2 679.1L1743.8 670.7M1710.2 673.5L1718.6 695.9L1732.6 707.1L1746.6 721.1L1752.2 715.5M1774.5 732.2L1785.7 746.2L1788.5 760.2L1774.5 763L1780.1 771.4L1791.3 779.7L1802.5 774.2L1813.6 779.7L1799.7 790.9L1810.8 799.3L1819.2 807.7M1802.5 757.4L1813.6 751.8L1822 749M1791.3 771.4L1796.9 760.2L1805.3 754.6M1643.2 830.1L1651.5 827.3L1659.9 835.6L1657.1 846.8L1648.7 841.2L1643.2 830.1M1402.8 901.3L1412.6 891.5L1414 897.1L1402.8 905.5M1802.5 679.1L1808 667.9L1819.2 656.8L1822 645.6M1246 807.7L1248.8 799.4L1254.4 800.7L1257.2 813.3L1260 835.7L1254.4 852.5L1246 866.4L1237.6 880.4L1229.2 891.6L1223.7 902.8L1212.5 908.4L1206.9 898.6L1215.3 901.4L1223.7 891.6L1232 877.6L1240.4 863.7L1246 846.9L1248.8 830.1L1246 807.7M1151 816.1L1162.1 811.9L1170.5 816.1L1173.3 832.9L1178.9 852.5L1187.3 872L1190.1 880.4M1152.4 824.5L1159.4 821.7L1156.6 832.9L1164.9 830.1M1016.8 859.5L1025.2 856.7L1036.3 855.3L1044.7 848.3M1025.2 860.9L1026.6 872L1033.5 874.8L1032.1 888.8M1156.6 925.2L1160.7 923.8L1162.1 936.3L1160.7 950.3L1156.6 947.5L1158 936.3L1156.6 925.2M1044.7 964.3L1054.5 957.3L1060.1 967.1L1054.5 974.1L1047.5 972.7L1044.7 964.3M1402.6 902.8L1411 891.6L1413.8 894.4L1405.4 905.6M1385.8 93.7L1394.2 95.1L1397 109L1395.6 120.2L1385.8 114.6L1384.4 103.4L1385.8 93.7M1431.9 192.9L1434.7 184.5L1427.7 178.9L1416.6 184.5L1408.2 195.7L1411 212.5L1408.2 229.2L1402.6 240.4L1405.4 251.6L1394.2 255.8L1385.8 250.2L1371.8 253L1363.4 262.8M1405.4 251.6L1419.3 254.4L1424.9 262.8"/></g>
<g clip-path="url(#dR)">
<circle cx="1493" cy="98.3" r="6.3" fill="#d69462" stroke="#000" stroke-width="4.6"/>
<g class="k" stroke-width="4">
<path d="M1058 318C1058.8 320.2 1061 327.7 1063 331C1065 334.3 1068.2 335.7 1070 338C1071.8 340.3 1073.1 341.9 1074 345C1074.9 348.1 1074.8 351.6 1075.5 356.8C1076.2 362 1076.6 369.5 1078 376C1079.4 382.5 1081.6 389.9 1083.9 396C1086.2 402.1 1089.9 407.1 1092 412.7C1094.1 418.3 1095.5 423 1096.5 429.5C1097.5 436 1097.6 444.4 1097.8 451.8C1098 459.2 1098 467 1097.8 474C1097.6 481 1097.9 489.1 1096.5 493.8C1095.1 498.5 1092.1 500.9 1089.5 502C1086.9 503.1 1084.2 502.5 1081 500.7C1077.8 498.9 1074.2 494.5 1070 491C1065.8 487.5 1060.7 483.1 1056 479.8C1051.3 476.5 1046.7 473.5 1042 471.4C1037.3 469.3 1032.7 467.8 1028 467C1023.3 466.2 1018.7 466.6 1014 466.4C1009.3 466.2 1002.3 466.1 1000 466"/>
<path d="M1057 995C1057 994.1 1055.8 991.6 1057 989.5C1058.2 987.4 1060.5 984.3 1064 982.5C1067.5 980.7 1073.3 979 1078 978.8C1082.7 978.5 1088 979.2 1092 981C1096 982.8 1100.3 987.2 1102 989.5C1103.7 991.8 1102 994.1 1102 995"/>
<path d="M1128 298C1128.6 300 1129.9 305 1131.4 309.8C1132.9 314.6 1135.1 321.3 1137 327C1138.9 332.7 1140.8 339.1 1142.6 343.9C1144.4 348.7 1146.1 353 1148 356C1149.9 359 1152 358.7 1153.8 362C1155.6 365.3 1157.8 370.3 1159 376C1160.2 381.7 1161 389.9 1160.8 396C1160.6 402.1 1159.6 407.6 1158 412.7C1156.4 417.8 1153.1 422 1151 426.7C1148.9 431.4 1146.1 436 1145.4 440.6C1144.7 445.2 1145.9 450.2 1146.8 454.6C1147.7 459 1150.3 464.9 1151 467"/>
<path d="M1166 597C1164.4 599.3 1159.5 605.8 1156.5 611C1153.5 616.2 1150.1 621.9 1148 628C1145.9 634.1 1144.2 640.8 1144 647.5C1143.8 654.2 1145.4 662.6 1146.8 668C1148.2 673.4 1150.5 676.3 1152.4 680C1154.3 683.7 1156.5 684.5 1158 690C1159.5 695.5 1161.1 705.7 1161.6 712.7C1162.1 719.7 1161.9 726.5 1160.8 732C1159.7 737.5 1157.6 742.5 1155 746C1152.4 749.5 1148.9 751.6 1145.4 753C1141.9 754.4 1137.5 755.3 1134 754.6C1130.5 753.9 1127.2 752.3 1124.4 749C1121.6 745.7 1119.3 739.7 1117.4 735C1115.5 730.3 1115.1 725.2 1113 721C1110.9 716.8 1107.8 712.8 1104.8 710C1101.8 707.2 1097.8 704 1095 704C1092.2 704 1089.4 707.2 1088 710C1086.6 712.8 1086.2 716.4 1086.7 721C1087.2 725.6 1088.9 732.7 1090.9 737.8C1093 742.9 1096.2 747.6 1099 751.8C1101.8 756 1105.9 758.8 1107.6 763C1109.3 767.2 1109.3 773.3 1109 777C1108.7 780.7 1108 780.3 1106 785C1104 789.7 1099.3 797.5 1097 805C1094.7 812.5 1092.3 824 1092 830C1091.7 836 1092.3 836.3 1095 841C1097.7 845.7 1102.9 853.5 1108 858C1113.1 862.5 1120.5 865.5 1125.8 867.8C1131.1 870.1 1134.3 871.3 1139.8 872C1145.3 872.7 1152.5 872.2 1159 872C1165.5 871.8 1172.9 871.8 1179 870.6C1185.1 869.4 1190.1 867.3 1195.7 865C1201.3 862.7 1207.8 859.5 1212.5 856.7C1217.2 853.9 1219 853.3 1223.6 848C1228.2 842.7 1235.6 831.7 1240 825C1244.4 818.3 1247.4 812.4 1250 807.7C1252.6 803 1253.2 799.4 1255.8 796.6C1258.4 793.8 1262.1 791.9 1265.6 791C1269.1 790.1 1273.1 790.1 1276.8 791C1280.5 791.9 1284.8 793.4 1288 796.6C1291.2 799.9 1293.2 805.4 1296 810.5C1298.8 815.6 1302.1 821.4 1304.7 827C1307.3 832.6 1310.1 838.4 1311.7 844C1313.3 849.6 1314.3 855.3 1314.5 860.9C1314.7 866.5 1313.9 872 1313 877.6C1312.1 883.2 1309.9 889.3 1309 894.4C1308.1 899.5 1306.8 904.2 1307.5 908.4C1308.2 912.6 1310.2 916.8 1313 919.6C1315.8 922.4 1319.8 923.1 1324 925C1328.2 926.9 1333.8 928.4 1338 930.7C1342.2 933 1346.2 935.8 1349.5 939C1352.8 942.2 1355.5 946.2 1357.8 950C1360.1 953.8 1362 957.3 1363.4 961.5C1364.8 965.7 1365.6 972.8 1366 975"/>
<path d="M1608 928C1608.7 928 1610.3 927.9 1612.4 927.9C1614.5 927.9 1618.2 928.4 1620.8 927.9C1623.4 927.4 1626.2 927.3 1627.8 925C1629.4 922.7 1629.4 917.7 1630.6 914C1631.8 910.3 1632.7 905.8 1634.8 902.7C1636.9 899.7 1638.8 898.2 1643 895.7C1647.2 893.2 1653.7 890.6 1660 888C1666.3 885.4 1675.3 881.8 1680.9 880C1686.5 878.2 1689.5 878.3 1693.5 877C1697.5 875.7 1702 874.7 1704.6 872C1707.1 869.3 1707.9 866 1708.8 860.8C1709.7 855.6 1709.5 847.5 1710 841C1710.5 834.5 1710.6 827.7 1711.6 821.7C1712.6 815.7 1713.7 809.5 1715.8 805C1717.9 800.5 1720.7 797.2 1724 795C1727.3 792.8 1730.7 792 1735.4 792C1740.1 792 1746.4 793.8 1752 795C1757.6 796.2 1763.5 798.7 1769 799C1774.5 799.3 1779.9 798.3 1785 797C1790.1 795.7 1795.4 792.5 1799.7 791C1804 789.5 1807.6 789.9 1810.8 788C1814 786.1 1817.6 783.4 1819 779.7C1820.4 776 1820.4 770.4 1819 765.8C1817.6 761.1 1814.5 756 1810.8 751.8C1807.1 747.6 1802 744.3 1796.9 740.6C1791.8 736.9 1785.2 731.7 1780 729.4C1774.8 727.1 1771 725.2 1766 726.6C1761 728 1754.7 735.1 1750 738C1745.3 740.9 1742.3 743.3 1738 744C1733.7 744.7 1728.2 743.5 1724 742C1719.8 740.5 1715.8 738.5 1713 735C1710.2 731.5 1708.4 727.5 1707.4 721C1706.4 714.5 1706.9 704.1 1706.9 696C1706.9 687.9 1708.6 680.3 1707.4 672.6C1706.2 664.9 1703.1 657.5 1700 650C1696.9 642.5 1690.8 633.4 1689 627.9C1687.2 622.4 1688.2 621.4 1689 616.7C1689.8 612.1 1691.6 605.1 1693.5 600C1695.4 594.9 1698.6 591.2 1700.4 586C1702.2 580.8 1703.4 575.5 1704.6 569C1705.8 562.5 1706 554.2 1707.4 546.8C1708.8 539.4 1710.7 532 1713 524.5C1715.3 517 1718.4 509.5 1721.4 502C1724.4 494.5 1728.2 486.2 1731 479.7C1733.8 473.2 1735.2 469.6 1738 463C1740.8 456.4 1744.2 447.9 1748 440C1751.8 432.1 1753.5 422.2 1760.5 415.5C1767.5 408.8 1779.8 404.6 1790 400C1800.2 395.4 1814.5 390.7 1822 388C1829.5 385.3 1832.8 384.7 1835 384"/>
<path d="M1000 664C1002.3 664.2 1009.3 664.3 1014 665C1018.7 665.7 1023.3 668.2 1028 668C1032.7 667.8 1037.3 665.6 1042 663.8C1046.7 662 1050.9 659.1 1056 657C1061.1 654.9 1067.6 652.2 1072.7 651C1077.8 649.8 1083.7 648.8 1086.7 649.8C1089.7 650.8 1090.1 654 1090.9 656.8C1091.7 659.6 1092.2 662.7 1091.7 666.6C1091.2 670.5 1090.3 676.6 1088 680C1085.7 683.4 1081.7 685.3 1078 687C1074.3 688.7 1070.4 688.8 1065.7 690C1061 691.2 1055.4 693 1050 694.5C1044.6 696 1039.5 697.3 1033.5 698.7C1027.5 700.1 1019.6 702 1014 703C1008.4 704 1002.3 704.7 1000 705"/>
<path d="M1000 917C1002.3 917 1010.3 916.2 1014 917C1017.7 917.8 1019.9 919.7 1022 922C1024.1 924.3 1026.6 927.6 1026.6 930.7C1026.6 933.8 1024.1 938 1022 940.5C1019.9 943 1017.7 945.1 1014 946C1010.3 946.9 1002.3 946 1000 946"/>
<path d="M1223.6 1000C1223.6 998.2 1223.4 994 1223.6 989.5C1223.8 985 1223.6 977.8 1225 972.7C1226.4 967.6 1229 962.9 1232 958.7C1235 954.5 1239.7 949.8 1243 947.5C1246.3 945.2 1247.9 944.6 1251.6 944.7C1255.3 944.8 1260.8 945.2 1265 948C1269.2 950.8 1274.4 956.9 1276.8 961.5C1279.2 966.1 1279.2 970.8 1279.6 975.5C1280 980.2 1279.1 985.4 1279 989.5C1278.9 993.6 1279 998.2 1279 1000"/>
<path d="M1662.7 1000C1662.7 998.2 1663.4 993.5 1662.7 989.4C1662 985.3 1658.7 979.6 1658.5 975.4C1658.3 971.2 1659.7 967.1 1661.3 964C1662.9 960.9 1665.5 958.2 1668.3 957C1671.1 955.8 1674.7 955.3 1678 957C1681.3 958.7 1684.9 963.9 1687.9 967C1690.9 970.1 1693.8 973.3 1696 975.4C1698.2 977.5 1699 978 1701.3 979.6C1703.6 981.2 1708.5 984.1 1710 985"/>
<path d="M1408.4 925C1408.4 923.3 1408.2 919.7 1408.4 915C1408.6 910.3 1408.4 902.8 1409.8 897C1411.2 891.2 1413.3 884.9 1416.8 880C1420.3 875.1 1426 871.5 1430.7 867.8C1435.4 864.1 1440.5 862.5 1444.7 858C1448.9 853.5 1452.7 847.5 1455.9 841C1459.1 834.5 1461.2 826.4 1464 819C1466.8 811.6 1470.1 804 1472.7 796.5C1475.3 789 1477.7 780.1 1479.7 774C1481.8 767.9 1483 763 1485 760C1487 757 1489.4 756.4 1492 756C1494.6 755.6 1498.3 755.3 1500.6 757.4C1502.9 759.5 1504.4 764 1506 768.6C1507.6 773.2 1508.5 779.4 1510.4 785C1512.3 790.6 1515.3 796.3 1517.4 802C1519.5 807.7 1521.8 813.4 1523 819C1524.2 824.6 1524.9 830 1524.4 835.6C1523.9 841.2 1522.1 847.3 1520 852.4C1517.9 857.5 1514.8 862.8 1511.8 866.4C1508.8 870 1504.8 870.9 1502 874C1499.2 877.1 1496.2 883.2 1495 885"/>
<path d="M1700 225C1698.9 227.1 1695.5 233.2 1693.5 237.6C1691.5 242 1689.4 246.5 1688 251.6C1686.6 256.7 1685.2 262.4 1685 268C1684.8 273.6 1685.3 280.3 1686.5 285C1687.7 289.7 1689 292.7 1692 296C1695 299.3 1699.7 302.5 1704.6 304.6C1709.5 306.7 1715.3 307.9 1721.4 308.8C1727.5 309.7 1734.7 309.9 1741 310C1747.3 310.1 1753.3 309.9 1759 309.7C1764.7 309.5 1772.3 309.1 1775 309"/>
<path d="M1158 305C1158.9 307.1 1161 313.2 1163.5 317.3C1166 321.4 1169.8 325.5 1173.3 329.9C1176.8 334.3 1181.4 341.1 1184.5 343.9C1187.6 346.7 1189.2 343.6 1192 346.5C1194.8 349.4 1199 355.6 1201 361.6C1203 367.6 1203.7 375.1 1204 382.7C1204.3 390.3 1202.7 398.9 1202.7 407C1202.7 415.1 1203 423 1204 431C1205 439 1206.7 446.9 1208.7 455C1210.7 463.1 1212.8 471.3 1216 479.4C1219.2 487.5 1223.4 496.1 1228 503.6C1232.6 511.2 1237.8 517.1 1243.4 524.7C1249 532.3 1255.5 542 1261.6 549C1267.6 556 1273.7 561.5 1279.7 567C1285.7 572.5 1292.2 578.2 1297.8 582C1303.3 585.8 1307.6 587.9 1313 589.7C1318.4 591.5 1324 592.3 1330 593C1336 593.7 1342.8 593.7 1349 594C1355.2 594.3 1360.9 593.5 1367 594.8C1373.1 596.1 1378.8 599.4 1385.4 601.8C1392 604.2 1399.5 606.2 1406.6 609C1413.6 611.8 1421.7 615.3 1427.7 618.4C1433.7 621.5 1438.8 624.4 1442.8 627.4C1446.8 630.4 1449 634.8 1452 636.5C1455 638.2 1458.2 638.4 1461 637.4C1463.8 636.4 1466.2 634.7 1468.5 630.5C1470.8 626.3 1472.8 618.6 1474.6 612C1476.3 605.4 1478.3 598 1479 591C1479.7 584 1480 576.5 1479 570C1478 563.5 1475.5 557.5 1473 552C1470.5 546.5 1466.8 542.3 1464 536.8C1461.2 531.2 1458.7 524.5 1456.4 518.7C1454.1 512.9 1451.1 506.8 1450.4 502C1449.7 497.2 1450.1 494.2 1452 490C1453.9 485.8 1458 480.4 1462 477C1466 473.6 1470.7 472.4 1476 469.7C1481.3 467 1488 463.9 1494 461C1500 458.1 1506.7 456 1512.3 452C1517.9 448 1523.4 442.5 1527.4 437C1531.4 431.5 1534.2 425 1536.5 419C1538.8 413 1540 407.5 1541 401C1542 394.5 1542.8 386.8 1542.5 380C1542.2 373.2 1539.8 365.1 1539 360C1538.2 354.9 1538.4 354.8 1538 349.5C1537.6 344.2 1536.2 335.6 1536.5 328C1536.8 320.4 1538 311 1539.5 304C1541 297 1544.4 291 1545.6 286C1546.8 281 1546.4 278.8 1546.7 274C1547 269.2 1548 262.7 1547.6 257C1547.1 251.3 1545.8 244.7 1544 240C1542.2 235.3 1540 232 1537 229C1534 226 1530 223.7 1525.8 222C1521.6 220.3 1516.9 219 1511.8 219C1506.7 219 1500.1 222 1495 222C1489.9 222 1485.2 220.8 1481 219C1476.8 217.2 1472.5 214.5 1469.9 211C1467.4 207.5 1465.9 202.4 1465.7 198C1465.5 193.6 1467.8 189.6 1468.5 184.5C1469.2 179.4 1470.8 173.3 1469.9 167.7C1469 162.1 1465.9 157.1 1462.9 151C1459.9 144.9 1455 137.5 1451.7 131C1448.4 124.5 1445.1 118.3 1443 111.8C1440.9 105.3 1439.4 98.5 1439 92C1438.6 85.5 1439.3 78.5 1440.5 72.7C1441.7 66.9 1443 60.8 1446 57C1449 53.2 1453.8 51.3 1458.7 49.7C1463.6 48.1 1469.5 47.8 1475.5 47.5C1481.5 47.2 1488.5 47.8 1495 48C1501.5 48.2 1508.5 48.7 1514.6 49C1520.7 49.3 1525.8 49.3 1531.4 50C1537 50.7 1543.3 53.2 1548 53C1552.7 52.8 1556.7 51.8 1559.3 49C1561.9 46.2 1563.3 40.3 1563.5 36C1563.7 31.7 1561.3 27.3 1560.7 23C1560.1 18.7 1560.1 12.2 1560 10"/>
<path d="M1324 191.5C1324.3 194.1 1324.5 201.7 1325.7 207C1326.9 212.3 1328.5 218 1331 223.6C1333.5 229.2 1337.9 235 1341 240.4C1344.1 245.8 1347.2 249.2 1349.5 255.8C1351.8 262.4 1354.8 271.9 1355 280C1355.2 288.1 1353.3 298.7 1351 304.7C1348.7 310.7 1344 311.8 1341 316C1338 320.2 1335.2 324.8 1332.7 329.9C1330.2 335 1327.6 341.1 1325.7 346.7C1323.8 352.3 1323.6 359.4 1321.5 363.4C1319.4 367.4 1316.5 368.4 1313 370.6C1309.5 372.8 1305.3 375 1300.8 376.7C1296.2 378.4 1290.5 379.3 1285.7 381C1280.9 382.7 1276.6 383 1272 387C1267.4 391 1261.7 397.2 1258 405C1254.3 412.8 1250.9 426.2 1250 434C1249.1 441.8 1250.8 446.7 1252.5 452C1254.2 457.3 1254.6 460.3 1260 465.8C1265.4 471.3 1276.7 480.2 1285 485C1293.3 489.8 1303.8 492.5 1310 494.5C1316.2 496.5 1317.5 497.2 1322 497C1326.5 496.8 1331.5 495.9 1337 493C1342.5 490.1 1349.7 484.7 1355 479.4C1360.3 474.1 1365.2 468.1 1368.8 461C1372.4 453.9 1374.4 445 1376.4 437C1378.4 429 1380 420.5 1381 413C1382 405.5 1380.1 399.3 1382.4 391.8C1384.7 384.3 1387 374.1 1395 368C1403 361.9 1421.2 358.6 1430.7 355.5C1440.2 352.4 1446.7 352.5 1452 349.5C1457.3 346.5 1460.8 342.5 1462.5 337.4C1464.2 332.3 1463 325.6 1462.5 319C1462 312.4 1461 304.5 1459.5 298C1458 291.5 1457.3 287.3 1453.4 280C1449.5 272.7 1441.2 261.5 1436 254C1430.8 246.5 1426.6 241.7 1422.4 234.8C1418.2 227.9 1413.8 219.9 1411 212.4C1408.2 204.9 1407.5 195.6 1405.6 190C1403.7 184.4 1402.6 181.8 1399.8 179C1397 176.2 1393.7 173.7 1388.6 173C1383.5 172.3 1375.5 174.3 1369 174.7C1362.5 175.1 1355.8 175.7 1349.5 175.6C1343.2 175.5 1334.1 174.3 1331 174" stroke-width="3.2"/>
</g>
<use href="#fR" clip-path="url(#eR)"/>
</g></g>
<g class="t" clip-path="url(#rL)"><circle cx="999" cy="0" r="118"/><circle cx="999" cy="0" r="472"/><circle cx="999" cy="0" r="844"/><circle cx="999" cy="0" r="1247"/><path d="M896.8 59L-386.6 800"/><path d="M940 102.2L199 1385.6"/></g>
<g class="t" stroke-opacity="0.6" stroke-width="0.9" clip-path="url(#rR)"><circle cx="1008.1" cy="110.3" r="104.9"/><circle cx="999.6" cy="113.7" r="416.7"/><circle cx="995.2" cy="122" r="738.3"/><circle cx="992" cy="128" r="1089.5"/><path d="M1099 58.2L2134.3 -539.6"/><path d="M1113 110.4L2308.5 110.4" stroke-opacity="1" stroke-width="1"/><path d="M1098.5 163.4L2128.6 770.2"/><path d="M1059.6 201.5L1644.7 1244.1"/></g>
<g fill="#000"><rect x="0" y="0" width="1841" height="1"/><rect x="0" y="0" width="1" height="1324"/><rect x="0" y="1323" width="1841" height="1"/><rect x="1840" y="0" width="1" height="1324"/><rect x="1011" y="0" width="3" height="1324"/><rect x="1012" y="990" width="829" height="1.3"/><rect x="999" y="117" width="1" height="1181"/></g>
<g><text class="l" x="300.3" y="80">0.</text><text class="l" x="154.3" y="264">0.</text><text class="l" x="802.3" y="339">0.</text><text class="l" x="945.3" y="412">0.</text><text class="l" x="532.2" y="259">4.</text><text class="l" x="660.2" y="294">4</text><text class="l" x="751.2" y="395">4.</text><text class="l" x="883.2" y="491">4.</text><text class="l" x="951.2" y="676">4.</text><text class="l" x="770.2" y="916">4.</text><text class="l" x="923.2" y="1044">4.</text><text class="l" x="548.2" y="1221">4</text><text class="l" x="227.2" y="958">4.</text><text class="l" x="137.2" y="785.5">4.</text><text class="l" x="130.2" y="503">4.</text><text class="l" x="518.3" y="425">8.</text><text class="l" x="455.3" y="486.5">8.</text><text class="l" x="438.3" y="730.5">8.</text><text class="l" x="292.3" y="891">8.</text><text class="l" x="388.8" y="1092.5">8.</text><text class="l" x="552.1" y="893.8">8.</text><text class="l" x="355.6" y="807" textLength="48.6" lengthAdjust="spacingAndGlyphs">12</text></g>
<g><text class="r" x="1485.2" y="61.5">8.</text><text class="r" x="1530.6" y="384">8.</text><text class="r" x="1444.6" y="490">8.</text><text class="r" x="1317.6" y="608">8.</text><text class="r" x="1335.5" y="292" textLength="45.9" lengthAdjust="spacingAndGlyphs">12.</text><text class="r" x="1237.9" y="423.5" textLength="45.9" lengthAdjust="spacingAndGlyphs">12.</text><text class="r" x="1382.9" y="381" textLength="45.9" lengthAdjust="spacingAndGlyphs">12.</text><text class="r" x="1263.5" y="493" textLength="45.9" lengthAdjust="spacingAndGlyphs">12.</text><text class="r" x="1146.1" y="500.7">4.</text><text class="r" x="1157.3" y="545.5">4.</text><text class="r" x="1167" y="588.8">4.</text><text class="r" x="1066.3" y="700">4.</text><text class="r" x="1087.3" y="820">4.</text><text class="r" x="1097.3" y="871">4.</text><text class="r" x="1224.3" y="841">4.</text><text class="r" x="1250.9" y="956">4.</text><text class="r" x="1736.1" y="452">4.</text><text class="r" x="1685.8" y="661.4">4.</text><text class="r" x="1736.1" y="753">4.</text><text class="r" x="1769.3" y="813">4.</text><text class="r" x="1650.8" y="898.5">4.</text></g>
<g><circle cx="298" cy="143.5" r="2.6"/><text class="c" x="306" y="149" textLength="60.5" lengthAdjust="spacingAndGlyphs">Осло</text><circle cx="112" cy="217.6" r="2.6"/><text class="c" x="117" y="232.5" textLength="90" lengthAdjust="spacingAndGlyphs">Берлин</text><circle cx="55" cy="243.5" r="2.6"/><text class="c" x="54" y="264" textLength="68" lengthAdjust="spacingAndGlyphs">Прага</text><circle cx="141" cy="334.5" r="2.6"/><text class="c" x="149.5" y="338" textLength="107.5" lengthAdjust="spacingAndGlyphs">Варшава</text><circle cx="376.4" cy="369.4" r="2.6"/><text class="c" x="381" y="382" textLength="198" lengthAdjust="spacingAndGlyphs">Санкт-Петербург</text><circle cx="223" cy="409" r="2.6"/><text class="c" x="227.5" y="423.6" textLength="75.5" lengthAdjust="spacingAndGlyphs">Минск</text><circle cx="580.7" cy="276.4" r="2.6"/><text class="c" x="587" y="295" textLength="121.6" lengthAdjust="spacingAndGlyphs">Мурманск</text><circle cx="165" cy="491.4" r="2.6"/><text class="c" x="169" y="508" textLength="58" lengthAdjust="spacingAndGlyphs">Киев</text><circle cx="343.8" cy="508" r="2.6"/><text class="c" x="349.5" y="517" textLength="90" lengthAdjust="spacingAndGlyphs">Москва</text><circle cx="456.8" cy="632.6" r="2.6"/><text class="c" x="467.4" y="639" textLength="83.6" lengthAdjust="spacingAndGlyphs">Казань</text><circle cx="193.4" cy="674" r="2.6"/><text class="c" x="205.6" y="695.7" textLength="189.1" lengthAdjust="spacingAndGlyphs">Ростов-на-Дону</text><circle cx="282.4" cy="803.7" r="2.6"/><text class="c" x="291.4" y="812" textLength="124.2" lengthAdjust="spacingAndGlyphs">Астрахань</text><circle cx="147.8" cy="853.5" r="2.6"/><text class="c" x="155" y="862" textLength="101.8" lengthAdjust="spacingAndGlyphs">Тбилиси</text><circle cx="607" cy="696.4" r="2.6"/><text class="c" x="611" y="710.7" textLength="164" lengthAdjust="spacingAndGlyphs">Екатеринбург</text><circle cx="778.4" cy="515" r="2.6"/><text class="c" x="784.7" y="529.6" textLength="114" lengthAdjust="spacingAndGlyphs">Салехард</text><circle cx="757.5" cy="813" r="2.6"/><text class="c" x="763" y="827" textLength="62" lengthAdjust="spacingAndGlyphs">Омск</text><circle cx="897" cy="846" r="2.6"/><text class="c" x="826.6" y="875.8" textLength="159.4" lengthAdjust="spacingAndGlyphs">Новосибирск</text><circle cx="114.6" cy="881.7" r="2.6"/><text class="c" x="125" y="905.5" textLength="86" lengthAdjust="spacingAndGlyphs">Ереван</text><circle cx="205.7" cy="954" r="2.6"/><text class="c" x="211" y="968.6" textLength="52.8" lengthAdjust="spacingAndGlyphs">Баку</text><circle cx="311" cy="1117.5" r="2.6"/><text class="c" x="317.9" y="1129.8" textLength="107.1" lengthAdjust="spacingAndGlyphs">Ашхабад</text><circle cx="571.8" cy="1138.6" r="2.6"/><text class="c" x="574" y="1155.5" textLength="100" lengthAdjust="spacingAndGlyphs">Ташкент</text><circle cx="738" cy="1135.8" r="2.6"/><text class="c" x="742.5" y="1151.5" textLength="114.1" lengthAdjust="spacingAndGlyphs">Алма-Ата</text><circle cx="531.5" cy="1209" r="2.6"/><text class="c" x="534" y="1224" textLength="109" lengthAdjust="spacingAndGlyphs">Душанбе</text><circle cx="1528.6" cy="158.8" r="2.6"/><text class="c" x="1532.6" y="172" textLength="108.4" lengthAdjust="spacingAndGlyphs">Анадырь</text><text class="c" x="1652" y="398.7" textLength="183.6" lengthAdjust="spacingAndGlyphs">Петропавловск</text><circle cx="1727.6" cy="413" r="2.6"/><text class="c" x="1697.5" y="436.4" textLength="138.1" lengthAdjust="spacingAndGlyphs">Камчатский</text><circle cx="1551" cy="434" r="2.6"/><text class="c" x="1559.7" y="446" textLength="97" lengthAdjust="spacingAndGlyphs">Магадан</text><circle cx="1378" cy="579" r="2.6"/><text class="c" x="1384.4" y="594" textLength="80.6" lengthAdjust="spacingAndGlyphs">Якутск</text><circle cx="1107.6" cy="657" r="2.6"/><text class="c" x="1120.6" y="668.5" textLength="53.4" lengthAdjust="spacingAndGlyphs" style="font-weight:normal;stroke:#000;stroke-width:0.5px">Тура</text><circle cx="1047" cy="848" r="2.6"/><text class="c" x="1050.7" y="856.7" textLength="139" lengthAdjust="spacingAndGlyphs">Красноярск</text><circle cx="1206.9" cy="910.6" r="2.6"/><text class="c" x="1210" y="919.6" textLength="93" lengthAdjust="spacingAndGlyphs">Иркутск</text><circle cx="1325.7" cy="872.6" r="2.6"/><text class="c" x="1331.7" y="879" textLength="55.1" lengthAdjust="spacingAndGlyphs">Чита</text><circle cx="1517.4" cy="803.5" r="2.6"/><text class="c" x="1482.8" y="831.4" textLength="171.2" lengthAdjust="spacingAndGlyphs">Благовещенск</text><circle cx="1627.8" cy="759.3" r="2.6"/><text class="c" x="1633" y="770" textLength="127" lengthAdjust="spacingAndGlyphs">Хабаровск</text><circle cx="1732" cy="687.5" r="2.6"/><text class="c" x="1629.6" y="708.5" textLength="204.4" lengthAdjust="spacingAndGlyphs">Южно-Сахалинск</text><circle cx="1684" cy="888" r="2.6"/><text class="c" x="1649" y="916" textLength="154.5" lengthAdjust="spacingAndGlyphs">Владивосток</text></g>
<g font-size="16px"><text x="0.5" y="570">30</text><text x="231" y="1315.5">60</text><text x="1822" y="116">150</text><text x="1819" y="603">150</text></g>
<text x="1027.5" y="1014.3" font-size="18.6px" textLength="700" lengthAdjust="spacingAndGlyphs">Федеральная служба по гидрометеорологии и мониторингу окружающей среды</text>
<text x="1546" y="1051" font-size="21px" font-weight="bold" font-style="italic" textLength="267" lengthAdjust="spacingAndGlyphs">Гидрометцентр России</text>
<text x="1070.5" y="1140" font-size="33.5px" font-weight="bold" stroke="#000" stroke-width="0.5" textLength="717" lengthAdjust="spacingAndGlyphs">Прогноз аномалии средней температуры</text>
<text x="1080" y="1194.5" font-size="33.5px" font-weight="bold" stroke="#000" stroke-width="0.5" textLength="189" lengthAdjust="spacingAndGlyphs">воздуха на</text>
<text x="1300.5" y="1196.7" font-size="35px" font-weight="bold" stroke="#000" stroke-width="0.5" textLength="384" lengthAdjust="spacingAndGlyphs">27. 3.2026 - 31. 3.2026</text>
</svg>
</body></html>
